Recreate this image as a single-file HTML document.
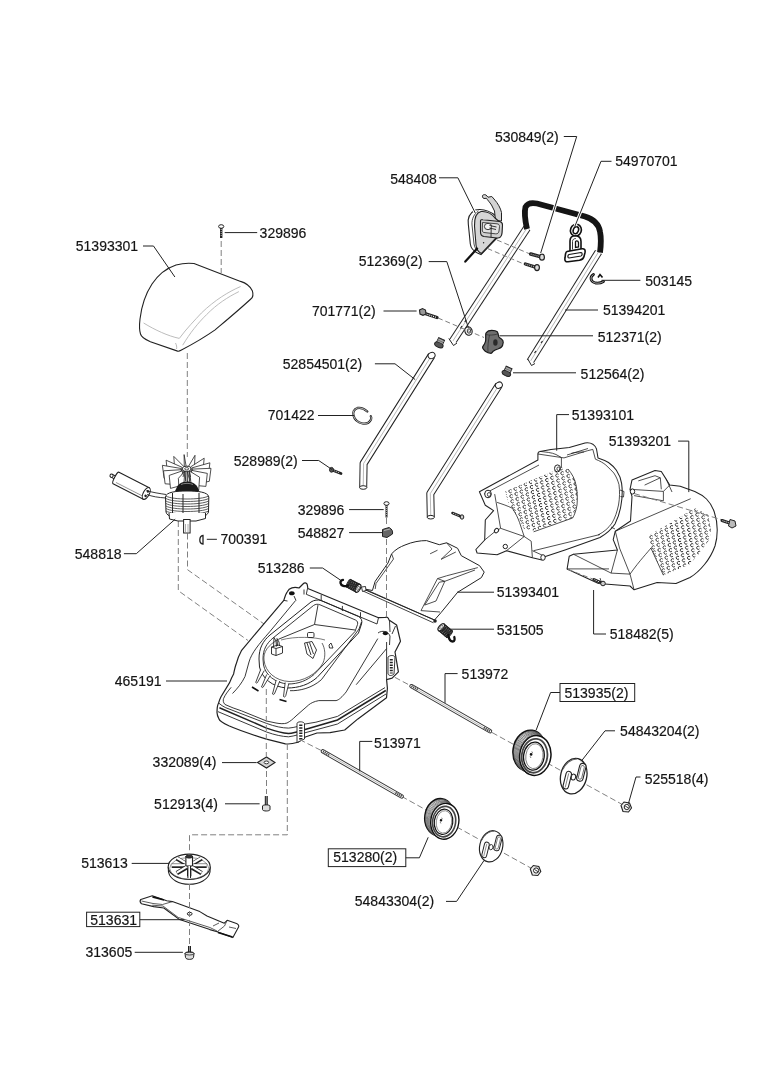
<!DOCTYPE html>
<html><head><meta charset="utf-8"><style>
html,body{margin:0;padding:0;background:#fff;width:764px;height:1080px;overflow:hidden}
svg{display:block;will-change:transform}
text{font-family:"Liberation Sans",sans-serif;font-size:14px;fill:#151515;stroke:#151515;stroke-width:0.18px}
</style></head><body>
<svg width="764" height="1080" viewBox="0 0 764 1080">
<path d="M527.0,228.0 L452.5,341.5" fill="none" stroke="#222" stroke-width="8" stroke-linecap="butt" stroke-linejoin="round"/><path d="M527.0,228.0 L452.5,341.5" fill="none" stroke="#fff" stroke-width="6" stroke-linecap="butt" stroke-linejoin="round"/><path d="M527.0,228.0 L452.5,341.5" fill="none" stroke="#999" stroke-width="0.7" stroke-linejoin="round"/>
<path d="M448.8,338.5 L453.5,345.5 L457,343" fill="#fff" stroke="#222" stroke-width="1"/>
<path d="M462,326 L460.5,328.5 M466,320 L464.8,322" stroke="#222" stroke-width="1.2"/>
<path d="M598.5,252.0 L530.2,361.5" fill="none" stroke="#222" stroke-width="8" stroke-linecap="butt" stroke-linejoin="round"/><path d="M598.5,252.0 L530.2,361.5" fill="none" stroke="#fff" stroke-width="6" stroke-linecap="butt" stroke-linejoin="round"/><path d="M598.5,252.0 L530.2,361.5" fill="none" stroke="#999" stroke-width="0.7" stroke-linejoin="round"/>
<path d="M527.8,359 L531.5,365.5 L535,363.5" fill="#fff" stroke="#222" stroke-width="1"/>
<path d="M534.5,353 L536,351 M541,343 L542.5,341" stroke="#222" stroke-width="1.2"/>
<path d="M527,229 C525,220 524,213 525.5,207 C527.5,203 532,202.5 537,203.5 L585,216.5 C593,219 598.5,223 600,231.5 C601.5,239 601,245 600,252.5" fill="none" stroke="#151515" stroke-width="5.8"/>
<path d="M475,210 C470,213 467.5,218 468.3,224 L470.3,244 C470.8,248 473.5,251 477.5,253 L481,254.5 L497,238 L496,216 C490,211 482,208.5 475,210 Z" fill="#fff" stroke="#222" stroke-width="1.1"/>
<path d="M478.5,211 C474,214 471.5,219 472,225 L474,244 C474.5,248 477,251 480.5,253" fill="none" stroke="#222" stroke-width="0.8"/>
<path d="M482.8,195.2 C482,196.5 482.5,198 484,198.5 L486.5,198.3 C487.5,200 489.5,202 491.5,205 L494.5,211 L495.5,220.5 L501.5,221 L501.5,212.5 C500.5,208 498,203.5 494,199 L491.8,196.5 L488,197.2 L486,195 C485,194.5 483.5,194.5 482.8,195.2 Z" fill="#d4d4d4" stroke="#222" stroke-width="1"/>
<path d="M481,211.5 C487,211 492,214 495,218 L502,224 L501.5,235 L495.5,238.5 L481.5,253.5 C478,252 476.5,249 476,245 L474.5,226 C474.3,218 476.5,212.5 481,211.5 Z" fill="#d6d6d6" stroke="#222" stroke-width="1.1"/>
<path d="M480.5,221 C480.5,219.8 481.5,219.5 483,219.8 L499.5,221.5 C501.5,221.8 502.5,223 502.5,225 L502,233 C501.8,236.5 500,238.3 497,238 L484,236.5 C481.5,236 480.5,234.5 480.5,232 Z" fill="#d0d0d0" stroke="#222" stroke-width="1.1"/>
<path d="M482.5,222.5 L497,223.8 C498.8,224 499.5,225 499.5,226.5 L499,231 C498.8,233 497.5,234 495.5,233.8 L484,232.5 C482.8,232.3 482.3,231.5 482.3,230 Z" fill="#e2e2e2" stroke="#222" stroke-width="0.8"/>
<ellipse cx="488" cy="226.5" rx="3.6" ry="3.2" fill="#f4f4f4" stroke="#222" stroke-width="0.9"/>
<path d="M489.5,225.5 L496.5,227 M489.5,228 L496,229.5 M491.2,228.5 L491,237.5" stroke="#222" stroke-width="0.9"/>
<circle cx="483.6" cy="242.7" r="0.7" fill="#222"/>
<path d="M477.1,248.6 L465.3,261.6" stroke="#111" stroke-width="2.2" stroke-linecap="round"/>
<path d="M497,240 L530,254 M487.5,248.5 L525,264.5" stroke="#777" stroke-width="0.95" stroke-dasharray="5,3"/>
<path d="M530.7,254.0 L542.0,257.2" stroke="#222" stroke-width="3.4" stroke-linecap="round"/><path d="M530.7,254.0 L540.1,256.7" stroke="#aaa" stroke-width="1.3" stroke-dasharray="1,1"/><ellipse cx="542.0" cy="257.2" rx="2.4" ry="3.0" fill="#ddd" stroke="#222" stroke-width="1.2"/>
<path d="M525.4,264.0 L537.0,267.6" stroke="#222" stroke-width="3.4" stroke-linecap="round"/><path d="M525.4,264.0 L535.1,267.0" stroke="#aaa" stroke-width="1.3" stroke-dasharray="1,1"/><ellipse cx="537.0" cy="267.6" rx="2.4" ry="3.0" fill="#ddd" stroke="#222" stroke-width="1.2"/>
<ellipse cx="575.9" cy="230.2" rx="5.4" ry="6" transform="rotate(20 575.9 230.2)" fill="#fff" stroke="#111" stroke-width="1.6"/>
<ellipse cx="575.9" cy="230.2" rx="2.6" ry="3.6" transform="rotate(20 575.9 230.2)" fill="#fff" stroke="#111" stroke-width="1.5"/>
<path d="M570,251 L570,241 C570,237.5 572.5,235.8 575.5,235.8 C578.5,236 581,238 581,241.5 L581,250 Z" fill="#fff" stroke="#111" stroke-width="1.6"/>
<path d="M572.5,249.5 L572.5,241.5 C572.5,239.5 574,238.5 575.8,238.5" fill="none" stroke="#222" stroke-width="0.9"/>
<path d="M575.5,242 C575.5,240.5 578,240.5 578.5,242.5 L578.5,247 L575.5,247.5 Z" fill="#fff" stroke="#111" stroke-width="1.3"/>
<path d="M567,251.5 L582,248.8 C584.5,248.5 585.5,250 585,252.5 L584,256.5 C583.5,258.8 582,259.8 579.5,260.3 L568,261.8 C565.5,262 564.5,260.5 565,258 L565.5,254 C565.8,252.5 566,251.7 567,251.5 Z" fill="#fff" stroke="#111" stroke-width="1.6"/>
<path d="M569,254.5 L581,252.5 C582.5,252.5 582.5,255.5 581,256 L569,258 C567.5,258 567.5,255 569,254.5 Z" fill="#fff" stroke="#111" stroke-width="1.2"/>
<path d="M593.5,274.5 C589.5,277 590.5,282 595.5,283 C598.5,283.5 601,283 603.5,281.5" fill="none" stroke="#111" stroke-width="2.8" stroke-linecap="round"/>
<path d="M593.5,274.5 C589.5,277 590.5,282 595.5,283 C598.5,283.5 601,283 603.5,281.5" fill="none" stroke="#fff" stroke-width="0.6"/>
<path d="M598,277.5 L600,274.5 L602.5,277.5" fill="none" stroke="#111" stroke-width="1.6"/>
<path d="M486.3,332.6 C487.5,331 489.5,330.4 491.8,330.4 C494,330.4 496.2,330.8 497.3,331.8 C498.3,333 498.4,335.5 498.8,336.8 C499.3,337.8 500.3,338.2 501.4,338.9 C502.8,339.8 503.3,341 503.2,342.4 C503,344.5 502.6,346 501.5,347 C500.6,348 499.3,348.4 497.8,349 C496.3,349.5 494.3,350.4 493.2,351.2 C492.5,352 492,353.3 491,353.3 C489,353.3 486.8,352.5 485.3,351.3 C483.8,350 482.4,348.5 482.6,347.2 C482.8,346 483.8,345 484.4,344.1 C485.2,342.5 485.7,341.5 485.7,339.9 L485.7,334.7 C485.7,333.8 485.9,333.1 486.3,332.6 Z" fill="#6e6e6e" stroke="#1a1a1a" stroke-width="1.2"/>
<path d="M486,334.5 C489,335.5 494,335.2 498.3,333.8 M489.5,335 C488.5,340 487.5,346 488,352.5" fill="none" stroke="#333" stroke-width="0.8"/>
<ellipse cx="495.4" cy="342.5" rx="2.2" ry="3.2" fill="#2a2a2a"/>
<ellipse cx="468.5" cy="331" rx="3.6" ry="4.3" fill="#eee" stroke="#222" stroke-width="1.1" transform="rotate(-20 468.5 331)"/>
<ellipse cx="469" cy="331" rx="1.7" ry="2.2" fill="#fff" stroke="#222" stroke-width="0.9"/>
<path d="M438,318 L484,337.5" stroke="#777" stroke-width="0.95" stroke-dasharray="5,3"/>
<path d="M425,313.5 L437,317.5" stroke="#222" stroke-width="3.2" stroke-linecap="round"/>
<path d="M425.5,313.8 L436,317.3" stroke="#fff" stroke-width="1.1" stroke-dasharray="1,1"/>
<path d="M419.5,310 L422.5,308.5 L425.5,310 L426,314 L423,315.3 L420,314 Z" fill="#999" stroke="#222" stroke-width="1.1"/>
<g transform="translate(439.5,343.5) rotate(205)"><rect x="-3.2" y="-1" width="6.4" height="6" fill="#777" stroke="#222" stroke-width="1"/><ellipse cx="0" cy="-1.5" rx="4.5" ry="2.5" fill="#555" stroke="#222" stroke-width="1"/><path d="M-3.2,1.5 L3.2,1.5 M-3.2,3.5 L3.2,3.5" stroke="#ccc" stroke-width="0.6"/></g>
<g transform="translate(507,372) rotate(205)"><rect x="-3.2" y="-1" width="6.4" height="6" fill="#777" stroke="#222" stroke-width="1"/><ellipse cx="0" cy="-1.5" rx="4.5" ry="2.5" fill="#555" stroke="#222" stroke-width="1"/><path d="M-3.2,1.5 L3.2,1.5 M-3.2,3.5 L3.2,3.5" stroke="#ccc" stroke-width="0.6"/></g>
<path d="M194,263.5 L240.6,281.4 C246,283 250,286 252.3,290.7 C253.5,294.5 253,297.5 250.8,299 C240,309 228,319 215.1,329.9 C205,337 193,344 181,350.3 C179.5,351.2 178.5,351.3 177.6,351.1 L150.4,341.8 C145,339.5 141.5,337.5 140.5,334 C139.2,330 139.3,325 140,319 C141.5,306 145.5,294 152,284 C158,275 167,268 176,265 C182,263.3 188,262.8 194,263.5 Z" fill="#fff" stroke="#222" stroke-width="1.1"/>
<path d="M143.6,323 C155,330 168,336 179.3,338.4 C187,328 195,320 201.5,312.9 C215,300 228,292 240.6,286.5 M175.5,343 C176.5,345 177,347 176.5,349 M182.7,345.2 C190,333 198,323 206.6,314.6 C217,304 228,297 238.9,291.6" fill="none" stroke="#b0b0b0" stroke-width="0.85"/>
<path d="M221.2,227 L221.2,238" stroke="#222" stroke-width="2.4"/>
<path d="M221.2,229 L221.2,237" stroke="#fff" stroke-width="0.7" stroke-dasharray="1,1"/>
<ellipse cx="221.2" cy="226.5" rx="2.6" ry="1.8" fill="#fff" stroke="#222" stroke-width="1"/>
<path d="M221.2,241 L221.2,273" stroke="#808080" stroke-width="1" stroke-dasharray="6,3" fill="none"/>
<path d="M187.3,353 L187.3,457" stroke="#808080" stroke-width="1" stroke-dasharray="6,3" fill="none"/>
<path d="M178.3,521 L178.3,590.7 L248,640.5" stroke="#808080" stroke-width="1" stroke-dasharray="6,3" fill="none"/>
<path d="M187.5,533.5 L187.5,569.7 L281.7,636.5 L287.5,640.4 L287.5,667" stroke="#808080" stroke-width="1" stroke-dasharray="6,3" fill="none"/>
<path d="M186.1,466.1 L184.1,454.6 L184.3,467.6 L185.8,481.1 Z" fill="#fff" stroke="#222" stroke-width="0.8" stroke-linejoin="round"/>
<path d="M188.6,466.2 L195.0,455.3 L194.4,468.3 L189.7,481.2 Z" fill="#fff" stroke="#222" stroke-width="0.8" stroke-linejoin="round"/>
<path d="M183.8,466.5 L173.8,456.4 L174.7,469.4 L182.1,481.5 Z" fill="#fff" stroke="#222" stroke-width="0.8" stroke-linejoin="round"/>
<path d="M190.6,466.9 L204.2,458.2 L202.9,471.2 L193.0,481.9 Z" fill="#fff" stroke="#222" stroke-width="0.8" stroke-linejoin="round"/>
<path d="M182.1,467.3 L166.1,460.2 L167.5,473.2 L179.3,482.3 Z" fill="#fff" stroke="#222" stroke-width="0.8" stroke-linejoin="round"/>
<path d="M191.9,467.9 L209.9,462.8 L208.3,475.8 L195.0,482.9 Z" fill="#fff" stroke="#222" stroke-width="0.8" stroke-linejoin="round"/>
<path d="M181.2,468.5 L162.4,465.3 L164.1,478.3 L178.0,483.5 Z" fill="#fff" stroke="#222" stroke-width="0.8" stroke-linejoin="round"/>
<path d="M192.2,469.1 L211.0,468.3 L209.3,481.3 L195.4,484.1 Z" fill="#fff" stroke="#222" stroke-width="0.8" stroke-linejoin="round"/>
<path d="M181.5,469.7 L163.5,470.8 L165.1,483.8 L178.4,484.7 Z" fill="#fff" stroke="#222" stroke-width="0.8" stroke-linejoin="round"/>
<path d="M191.3,470.3 L207.3,473.4 L205.9,486.4 L194.1,485.3 Z" fill="#fff" stroke="#222" stroke-width="0.8" stroke-linejoin="round"/>
<path d="M182.8,470.7 L169.2,475.4 L170.5,488.4 L180.4,485.7 Z" fill="#fff" stroke="#222" stroke-width="0.8" stroke-linejoin="round"/>
<path d="M189.6,471.1 L199.6,477.2 L198.7,490.2 L191.3,486.1 Z" fill="#fff" stroke="#222" stroke-width="0.8" stroke-linejoin="round"/>
<path d="M184.8,471.4 L178.4,478.3 L179.0,491.3 L183.7,486.4 Z" fill="#fff" stroke="#222" stroke-width="0.8" stroke-linejoin="round"/>
<path d="M187.3,471.5 L189.3,479.0 L189.1,492.0 L187.6,486.5 Z" fill="#fff" stroke="#222" stroke-width="0.8" stroke-linejoin="round"/>
<ellipse cx="186.7" cy="468.8" rx="4.2" ry="2.6" fill="#fff" stroke="#222" stroke-width="1"/>
<ellipse cx="186.7" cy="468.8" rx="2" ry="1.2" fill="none" stroke="#222" stroke-width="0.8"/>
<path d="M184.5,471 L183,477 M189,471 L190.5,477" stroke="#222" stroke-width="0.8"/>
<path d="M177,487 C179,483 183,481.5 187,481.5 C191,481.5 195,483 197.5,487 L200,493 L174,493 Z" fill="#1a1a1a"/>
<path d="M181,484.5 C184,483 190,483 193,484.5" stroke="#999" stroke-width="0.8" fill="none"/>
<g transform="translate(0,2)">
<path d="M165.5,495 C166,490 176,489 187,489 C198,489 208,490 208.8,495 L208.5,510 C207,515 199,516 187,516 C175,516 167,515 166,510 Z" fill="#fff" stroke="#222" stroke-width="1"/>
<path d="M166,494.0 C172,498.0 202,498.0 208.5,494.0" fill="none" stroke="#333" stroke-width="0.8"/>
<path d="M166,496.5 C172,500.5 202,500.5 208.5,496.5" fill="none" stroke="#333" stroke-width="0.8"/>
<path d="M166,499.0 C172,503.0 202,503.0 208.5,499.0" fill="none" stroke="#333" stroke-width="0.8"/>
<path d="M166,501.5 C172,505.5 202,505.5 208.5,501.5" fill="none" stroke="#333" stroke-width="0.8"/>
<path d="M166,504.0 C172,508.0 202,508.0 208.5,504.0" fill="none" stroke="#333" stroke-width="0.8"/>
<path d="M166,506.5 C172,510.5 202,510.5 208.5,506.5" fill="none" stroke="#333" stroke-width="0.8"/>
<path d="M166,509.0 C172,513.0 202,513.0 208.5,509.0" fill="none" stroke="#333" stroke-width="0.8"/>
<path d="M172.5,491 L172.5,514 M199,491 L199,515 M183,492 L183,516" stroke="#222" stroke-width="1"/>
</g>
<path d="M169,513 L169.5,519 L178,521 L196,521 L205.5,518.5 L205.5,513" fill="#fff" stroke="#222" stroke-width="1"/>
<rect x="183.6" y="519.5" width="6.5" height="13.5" fill="#fff" stroke="#222" stroke-width="1"/>
<path d="M185.5,524 L185.5,532 M188,524 L188,532" stroke="#777" stroke-width="0.6"/>
<g transform="translate(116,478) rotate(27)"><rect x="-5" y="-1.6" width="5" height="3.2" fill="#fff" stroke="#222" stroke-width="1"/><circle cx="-5" cy="0" r="1.6" fill="#fff" stroke="#222" stroke-width="1"/><path d="M0,-6.5 L34,-6.5 L34,6.5 L0,6.5 C-2,6.5 -2,-6.5 0,-6.5 Z" fill="#fff" stroke="#222" stroke-width="1.1"/><path d="M2,4 L33,4" stroke="#777" stroke-width="0.7"/><ellipse cx="34" cy="0" rx="3" ry="6.5" fill="#fff" stroke="#222" stroke-width="1.1"/><circle cx="34.5" cy="-2.5" r="1.3" fill="#222"/><circle cx="34.5" cy="2.5" r="1.3" fill="#222"/></g>
<path d="M147,494.5 C152,496.5 158,497.5 166,498 M146.5,490.5 C152,492.5 160,493.5 166,494.5" fill="none" stroke="#222" stroke-width="0.9"/>
<path d="M203,535.5 C199,536 198.5,543.5 203,544 Z" fill="#fff" stroke="#222" stroke-width="1.3"/>
<path d="M287.5,591.5 C289,588 294,586.5 299,588 L303,584 C305,582 307.5,583 307.5,586 L307.8,588.5 L378.5,617.7 L385,617.5 C387,616.5 388.5,617.5 389,620 L396.6,625 L400.5,641.3 L395,652 L398.4,671.8 L392.1,678.1 L386.6,679.7 L387.4,688.3 L386.5,697.7 L357.9,718.9 L344.7,730 L330,732.6 L317,733 L305.3,737 L298,742.2 C292,744 288,744.2 285.4,743.8 L266.5,739.1 C250,734 236,729 228.8,725.8 C223,723 219.5,721 219,719 C217.5,716 217,714 217,712.4 C217,708 217.5,705 218.6,703 C219.5,700 220,698.5 221,696.7 L229.6,682.6 C231,679 232.5,676 233.6,674 C234.5,670 235,667 235.9,664.8 C238,657 239.5,654 241.4,650.7 L257.1,631.8 L283.8,600.4 C285,596 286,593.5 287.5,591.5 Z" fill="#fff" stroke="#222" stroke-width="1.2" stroke-linejoin="round"/>
<path d="M295.6,600.5 L269.7,631.8 C259,644 251.5,653 249,662 L245,676.5 C242,683 237,689 232.5,693.5" fill="none" stroke="#222" stroke-width="0.9"/>
<path d="M294,596 L296,600.5 M283.8,600.4 L287.5,601" fill="none" stroke="#222" stroke-width="0.9"/>
<path d="M377.8,638.6 L346.2,691.9 C342,697 339,700 336.1,700.6 L318.8,700.6 C314,701.5 311,703 308.7,704.9 L296,716 C293,719 290,721.5 287,723 C284,724 280,723.8 276,723 L266.5,721 L241.4,710.8 C236,709 230,707 225,704.5 C223,702.5 223,700 223.6,698.5 C225,695 228,691 231.2,687.3" fill="none" stroke="#222" stroke-width="0.9"/>
<path d="M386.5,648.7 L356.2,684.7" fill="none" stroke="#222" stroke-width="0.9"/>
<path d="M218.6,703 C221,705 223,706.5 225.7,707.7 L266.5,723.4 C275,726.5 282,728 288.5,728.1 C295,727.5 300,726 304.2,724.2 L315.9,722.2 L337.5,716.4 L385,687.6" fill="none" stroke="#222" stroke-width="0.9"/>
<path d="M219.4,707.7 L266.5,728.1 C275,731 282,733 288.5,733.6 C295,733 300,731 304.2,729.7 L337.5,720 L385.8,690.5" fill="none" stroke="#222" stroke-width="1.5"/>
<path d="M217.9,711.6 L266.5,732 C275,735 282,736.5 288.5,736.8 C295,736 300,734 304.2,733 L337.5,724 L386,694" fill="none" stroke="#222" stroke-width="0.9"/>
<path d="M297,723.5 C297,721.5 303,721 304.5,723.5 L304.5,739 L297,742.5 Z" fill="#fff" stroke="#222" stroke-width="0.9"/>
<path d="M300.8,724.5 L300.8,740" stroke="#222" stroke-width="3.2" stroke-dasharray="1.5,1.2"/>
<path d="M388,657 C390,655 394,655 395,657 L394,674 C392,676 389,676 388,674 Z" fill="#fff" stroke="#222" stroke-width="0.9"/>
<path d="M391.3,659 L391.3,673.5" stroke="#222" stroke-width="3" stroke-dasharray="1.5,1.2"/>
<path d="M386.6,642 L386.6,679.7" fill="none" stroke="#222" stroke-width="0.9"/>
<path d="M306.3,594.3 L377,624 M307.5,588.5 L306.3,594.3 M321.2,595 L321.2,600 M342.4,605.9 L342.4,611 M360.5,612.2 L360.5,617.5 M378.5,617.7 L377,624" fill="none" stroke="#222" stroke-width="0.9"/>
<path d="M304,589.5 L304,594.5" fill="none" stroke="#222" stroke-width="0.9"/>
<ellipse cx="291.8" cy="593.3" rx="2.8" ry="2" fill="#111"/>
<ellipse cx="385.4" cy="633.3" rx="2.6" ry="2" fill="#111"/>
<path d="M378,633 C382,630 388,631 390,636 L389.5,645" fill="none" stroke="#222" stroke-width="0.9"/>
<path d="M389.5,620.5 L390,632 M395.5,626 L392,634" fill="none" stroke="#222" stroke-width="0.9"/>
<path d="M259,659 C259,648 263,641 270,635 L311,602 C314,600 318,599.5 321,600.5 L358.5,616.5 C361.5,618 362.5,621 361.5,624 L358.5,633 L317,677.5 C309,684.5 299,688 287,688 C272,687 262,678 259.5,667 Z" fill="none" stroke="#222" stroke-width="1"/>
<path d="M263,659 C263,649.5 266.5,643.5 273,638 L313.5,605.5 C315.5,604 318,604 320,604.8 L355.5,620 C357.5,621 358,622.5 357.5,624.5 L355,631.5 L314,674.5 C307,680.5 298.5,684 288,684 C275,683 265.5,675 263.5,665 Z" fill="none" stroke="#222" stroke-width="0.9"/>
<path d="M318,605 L314.5,624.5 L355,630 M314.5,624.5 L279,639" fill="none" stroke="#222" stroke-width="0.9"/>
<path d="M279,639 C268,645 263,652 264,660 C265,672 276,681 289,681.5 C303,682 317,674 323,663 C326,656 325,648 322,643" fill="none" stroke="#222" stroke-width="0.7"/>
<path d="M361.5,622 L359,629 L321.4,679.7 C312,688 300,691 290,690.7" fill="none" stroke="#222" stroke-width="0.9"/>
<path d="M260.7,669.5 L255.7,682.5 C256.2,683.5 257.7,683.0 258.0,681.5 L264.3,670.5" fill="#fff" stroke="#222" stroke-width="0.85"/>
<path d="M266.7,674.5 L261.5,687 C262,688 263.5,687.5 263.8,686 L270.3,675.5" fill="#fff" stroke="#222" stroke-width="0.85"/>
<path d="M276.2,680 L272.5,694 C273,695 274.5,694.5 274.8,693 L279.8,681" fill="#fff" stroke="#222" stroke-width="0.85"/>
<path d="M285.2,682.5 L283.5,696.5 C284,697.5 285.5,697.0 285.8,695.5 L288.8,683.5" fill="#fff" stroke="#222" stroke-width="0.85"/>
<path d="M252,687 L258.5,691 M279.5,699.5 L286.5,701.5" stroke="#111" stroke-width="1.6"/>
<path d="M271.5,647 L278,645 L282.5,646.5 L282.5,653 L276,655.5 L271.5,654 Z" fill="#fff" stroke="#222" stroke-width="0.9"/>
<path d="M271.5,647 L276,648.5 L282.5,646.5 M276,648.5 L276,655.5" fill="none" stroke="#222" stroke-width="0.9"/>
<path d="M273.5,647 L274,637.5 L276,641 L276.5,646.5 M277.5,646 L277,638.5 L279,642 L279.5,646" fill="none" stroke="#222" stroke-width="0.9"/>
<rect x="307.5" y="632.5" width="6.5" height="5" rx="1.2" fill="#fff" stroke="#222" stroke-width="0.9"/>
<path d="M304.5,643 L312,641.5 L316.5,650 L313,658.5 L307,654 Z" fill="#fff" stroke="#222" stroke-width="0.9"/>
<path d="M307,643 L311,655 M309.5,642.5 L313.5,654" fill="none" stroke="#222" stroke-width="0.9"/>
<path d="M329,645 L331,643 L333,648 L329.5,648 Z" fill="#fff" stroke="#222" stroke-width="0.9"/>
<path d="M281,640 C295,636 315,637 325,640" fill="none" stroke="#222" stroke-width="0.6"/>
<path d="M479.4,491.8 L537.9,460 L537.9,454 C538,452 539,451.5 540,451.4 L551,449.4 L569.3,447.4 L585,442.9 C588,442.5 591,443 592.8,444.2 C594.5,445.5 596,447 596.5,449 L598,457.9 C603,459.5 606,461 608.5,462.5 C612,465 614.5,467.5 616.4,470.3 C619.5,475 621,479 621.6,483.4 C622.5,490 622.5,497 621,505 C620,512 618,518 615,524 C611,530 606,534 600,537.5 L565,550 L545.4,556.6 L542,560 L532.4,557.7 L506.5,550.7 L497.1,554.8 L477.1,553 L475.9,549.5 L484.7,540 L485.3,520 L493.6,510.6 L485.3,505.3 Z" fill="#fff" stroke="#222" stroke-width="1.05" stroke-linejoin="round"/>
<path d="M595.4,459.2 C600,461 603.5,463 605.9,465.1 C609,468 611.5,470.5 613.8,473 C616.5,477 618,481 619,484.7 C619.8,491 619.8,498 618.5,505 C617,512 615,518 612,523 C608.5,528 604,532 598,535" fill="none" stroke="#222" stroke-width="0.8"/>
<path d="M537.9,454 L561.4,457.5 L564,457.9 M561.4,457.5 L561.4,468 M539.8,451.4 C545,452 552,452.5 556,454.5 L561.4,457.5 M564,457.9 L587.6,450.7 L592.8,449.4 L595.4,459.2 M567,455 L588,448.5 M571,453.5 C575,452 580,452 584,452" fill="none" stroke="#222" stroke-width="0.8"/>
<path d="M620,490 L624,491.5 L623.5,497 L620.5,496.5 M611,527 L615,529" fill="none" stroke="#222" stroke-width="0.8"/>
<path d="M484,494 L539,465 M494.7,494.1 L500.6,528.3 M497.1,502.4 C502,504 508,506 512.4,508.3 C515.5,513 518,518 519.5,522.4 L524.2,536.5 L531.2,541.2 L532.4,557.7 M500.6,528.3 L524.2,536.5 M484.7,540 L494.7,531.8 L500.6,528.3 M506.5,550.7 L524.2,536.5 M532.4,550.7 L545.4,556.6 M533.6,531.8 L572.6,518 M533.6,550.7 L600,534.5" fill="none" stroke="#222" stroke-width="0.8"/>
<clipPath id="c1"><path d="M505.0,491.5 L562.0,467.5 L568.0,469.0 L575.0,480.0 L577.5,492.0 L577.0,505.0 L572.6,518.0 L533.0,530.5 L524.0,529.0 L519.5,519.0 L509.0,505.0 Z"/></clipPath><g clip-path="url(#c1)" fill="none" stroke="#333" stroke-width="1.0"><path d="M457.7,469.9 A1.6,1.6 0 1 0 457.7,472.1"/><path d="M458.7,475.0 A1.6,1.6 0 1 0 458.7,477.2"/><path d="M459.7,480.1 A1.6,1.6 0 1 0 459.7,482.3"/><path d="M460.7,485.2 A1.6,1.6 0 1 0 460.7,487.4"/><path d="M461.7,490.3 A1.6,1.6 0 1 0 461.7,492.5"/><path d="M462.7,495.4 A1.6,1.6 0 1 0 462.7,497.6"/><path d="M463.7,500.5 A1.6,1.6 0 1 0 463.7,502.7"/><path d="M464.7,505.6 A1.6,1.6 0 1 0 464.7,507.8"/><path d="M465.7,510.7 A1.6,1.6 0 1 0 465.7,512.9"/><path d="M466.7,515.8 A1.6,1.6 0 1 0 466.7,518.0"/><path d="M467.7,520.9 A1.6,1.6 0 1 0 467.7,523.1"/><path d="M468.7,526.0 A1.6,1.6 0 1 0 468.7,528.2"/><path d="M469.7,531.1 A1.6,1.6 0 1 0 469.7,533.3"/><path d="M470.7,536.2 A1.6,1.6 0 1 0 470.7,538.4"/><path d="M471.7,541.3 A1.6,1.6 0 1 0 471.7,543.5"/><path d="M472.7,546.4 A1.6,1.6 0 1 0 472.7,548.6"/><path d="M473.7,551.5 A1.6,1.6 0 1 0 473.7,553.7"/><path d="M474.7,556.6 A1.6,1.6 0 1 0 474.7,558.8"/><path d="M475.7,561.7 A1.6,1.6 0 1 0 475.7,563.9"/><path d="M476.7,566.8 A1.6,1.6 0 1 0 476.7,569.0"/><path d="M477.7,571.9 A1.6,1.6 0 1 0 477.7,574.1"/><path d="M478.7,577.0 A1.6,1.6 0 1 0 478.7,579.2"/><path d="M479.7,582.1 A1.6,1.6 0 1 0 479.7,584.3"/><path d="M480.7,587.2 A1.6,1.6 0 1 0 480.7,589.4"/><path d="M462.8,467.6 A1.6,1.6 0 1 0 462.8,469.8"/><path d="M463.8,472.7 A1.6,1.6 0 1 0 463.8,474.9"/><path d="M464.8,477.8 A1.6,1.6 0 1 0 464.8,480.0"/><path d="M465.8,482.9 A1.6,1.6 0 1 0 465.8,485.1"/><path d="M466.8,488.0 A1.6,1.6 0 1 0 466.8,490.2"/><path d="M467.8,493.1 A1.6,1.6 0 1 0 467.8,495.3"/><path d="M468.8,498.2 A1.6,1.6 0 1 0 468.8,500.4"/><path d="M469.8,503.3 A1.6,1.6 0 1 0 469.8,505.5"/><path d="M470.8,508.4 A1.6,1.6 0 1 0 470.8,510.6"/><path d="M471.8,513.5 A1.6,1.6 0 1 0 471.8,515.7"/><path d="M472.8,518.6 A1.6,1.6 0 1 0 472.8,520.8"/><path d="M473.8,523.7 A1.6,1.6 0 1 0 473.8,525.9"/><path d="M474.8,528.8 A1.6,1.6 0 1 0 474.8,531.0"/><path d="M475.8,533.9 A1.6,1.6 0 1 0 475.8,536.1"/><path d="M476.8,539.0 A1.6,1.6 0 1 0 476.8,541.2"/><path d="M477.8,544.1 A1.6,1.6 0 1 0 477.8,546.3"/><path d="M478.8,549.2 A1.6,1.6 0 1 0 478.8,551.4"/><path d="M479.8,554.3 A1.6,1.6 0 1 0 479.8,556.5"/><path d="M480.8,559.4 A1.6,1.6 0 1 0 480.8,561.6"/><path d="M481.8,564.5 A1.6,1.6 0 1 0 481.8,566.7"/><path d="M482.8,569.6 A1.6,1.6 0 1 0 482.8,571.8"/><path d="M483.8,574.7 A1.6,1.6 0 1 0 483.8,576.9"/><path d="M484.8,579.8 A1.6,1.6 0 1 0 484.8,582.0"/><path d="M485.8,584.9 A1.6,1.6 0 1 0 485.8,587.1"/><path d="M467.9,465.3 A1.6,1.6 0 1 0 467.9,467.5"/><path d="M468.9,470.4 A1.6,1.6 0 1 0 468.9,472.6"/><path d="M469.9,475.5 A1.6,1.6 0 1 0 469.9,477.7"/><path d="M470.9,480.6 A1.6,1.6 0 1 0 470.9,482.8"/><path d="M471.9,485.7 A1.6,1.6 0 1 0 471.9,487.9"/><path d="M472.9,490.8 A1.6,1.6 0 1 0 472.9,493.0"/><path d="M473.9,495.9 A1.6,1.6 0 1 0 473.9,498.1"/><path d="M474.9,501.0 A1.6,1.6 0 1 0 474.9,503.2"/><path d="M475.9,506.1 A1.6,1.6 0 1 0 475.9,508.3"/><path d="M476.9,511.2 A1.6,1.6 0 1 0 476.9,513.4"/><path d="M477.9,516.3 A1.6,1.6 0 1 0 477.9,518.5"/><path d="M478.9,521.4 A1.6,1.6 0 1 0 478.9,523.6"/><path d="M479.9,526.5 A1.6,1.6 0 1 0 479.9,528.7"/><path d="M480.9,531.6 A1.6,1.6 0 1 0 480.9,533.8"/><path d="M481.9,536.7 A1.6,1.6 0 1 0 481.9,538.9"/><path d="M482.9,541.8 A1.6,1.6 0 1 0 482.9,544.0"/><path d="M483.9,546.9 A1.6,1.6 0 1 0 483.9,549.1"/><path d="M484.9,552.0 A1.6,1.6 0 1 0 484.9,554.2"/><path d="M485.9,557.1 A1.6,1.6 0 1 0 485.9,559.3"/><path d="M486.9,562.2 A1.6,1.6 0 1 0 486.9,564.4"/><path d="M487.9,567.3 A1.6,1.6 0 1 0 487.9,569.5"/><path d="M488.9,572.4 A1.6,1.6 0 1 0 488.9,574.6"/><path d="M489.9,577.5 A1.6,1.6 0 1 0 489.9,579.7"/><path d="M490.9,582.6 A1.6,1.6 0 1 0 490.9,584.8"/><path d="M473.0,463.0 A1.6,1.6 0 1 0 473.0,465.2"/><path d="M474.0,468.1 A1.6,1.6 0 1 0 474.0,470.3"/><path d="M475.0,473.2 A1.6,1.6 0 1 0 475.0,475.4"/><path d="M476.0,478.3 A1.6,1.6 0 1 0 476.0,480.5"/><path d="M477.0,483.4 A1.6,1.6 0 1 0 477.0,485.6"/><path d="M478.0,488.5 A1.6,1.6 0 1 0 478.0,490.7"/><path d="M479.0,493.6 A1.6,1.6 0 1 0 479.0,495.8"/><path d="M480.0,498.7 A1.6,1.6 0 1 0 480.0,500.9"/><path d="M481.0,503.8 A1.6,1.6 0 1 0 481.0,506.0"/><path d="M482.0,508.9 A1.6,1.6 0 1 0 482.0,511.1"/><path d="M483.0,514.0 A1.6,1.6 0 1 0 483.0,516.2"/><path d="M484.0,519.1 A1.6,1.6 0 1 0 484.0,521.3"/><path d="M485.0,524.2 A1.6,1.6 0 1 0 485.0,526.4"/><path d="M486.0,529.3 A1.6,1.6 0 1 0 486.0,531.5"/><path d="M487.0,534.4 A1.6,1.6 0 1 0 487.0,536.6"/><path d="M488.0,539.5 A1.6,1.6 0 1 0 488.0,541.7"/><path d="M489.0,544.6 A1.6,1.6 0 1 0 489.0,546.8"/><path d="M490.0,549.7 A1.6,1.6 0 1 0 490.0,551.9"/><path d="M491.0,554.8 A1.6,1.6 0 1 0 491.0,557.0"/><path d="M492.0,559.9 A1.6,1.6 0 1 0 492.0,562.1"/><path d="M493.0,565.0 A1.6,1.6 0 1 0 493.0,567.2"/><path d="M494.0,570.1 A1.6,1.6 0 1 0 494.0,572.3"/><path d="M495.0,575.2 A1.6,1.6 0 1 0 495.0,577.4"/><path d="M496.0,580.3 A1.6,1.6 0 1 0 496.0,582.5"/><path d="M478.1,460.7 A1.6,1.6 0 1 0 478.1,462.9"/><path d="M479.1,465.8 A1.6,1.6 0 1 0 479.1,468.0"/><path d="M480.1,470.9 A1.6,1.6 0 1 0 480.1,473.1"/><path d="M481.1,476.0 A1.6,1.6 0 1 0 481.1,478.2"/><path d="M482.1,481.1 A1.6,1.6 0 1 0 482.1,483.3"/><path d="M483.1,486.2 A1.6,1.6 0 1 0 483.1,488.4"/><path d="M484.1,491.3 A1.6,1.6 0 1 0 484.1,493.5"/><path d="M485.1,496.4 A1.6,1.6 0 1 0 485.1,498.6"/><path d="M486.1,501.5 A1.6,1.6 0 1 0 486.1,503.7"/><path d="M487.1,506.6 A1.6,1.6 0 1 0 487.1,508.8"/><path d="M488.1,511.7 A1.6,1.6 0 1 0 488.1,513.9"/><path d="M489.1,516.8 A1.6,1.6 0 1 0 489.1,519.0"/><path d="M490.1,521.9 A1.6,1.6 0 1 0 490.1,524.1"/><path d="M491.1,527.0 A1.6,1.6 0 1 0 491.1,529.2"/><path d="M492.1,532.1 A1.6,1.6 0 1 0 492.1,534.3"/><path d="M493.1,537.2 A1.6,1.6 0 1 0 493.1,539.4"/><path d="M494.1,542.3 A1.6,1.6 0 1 0 494.1,544.5"/><path d="M495.1,547.4 A1.6,1.6 0 1 0 495.1,549.6"/><path d="M496.1,552.5 A1.6,1.6 0 1 0 496.1,554.7"/><path d="M497.1,557.6 A1.6,1.6 0 1 0 497.1,559.8"/><path d="M498.1,562.7 A1.6,1.6 0 1 0 498.1,564.9"/><path d="M499.1,567.8 A1.6,1.6 0 1 0 499.1,570.0"/><path d="M500.1,572.9 A1.6,1.6 0 1 0 500.1,575.1"/><path d="M501.1,578.0 A1.6,1.6 0 1 0 501.1,580.2"/><path d="M483.2,458.4 A1.6,1.6 0 1 0 483.2,460.6"/><path d="M484.2,463.5 A1.6,1.6 0 1 0 484.2,465.7"/><path d="M485.2,468.6 A1.6,1.6 0 1 0 485.2,470.8"/><path d="M486.2,473.7 A1.6,1.6 0 1 0 486.2,475.9"/><path d="M487.2,478.8 A1.6,1.6 0 1 0 487.2,481.0"/><path d="M488.2,483.9 A1.6,1.6 0 1 0 488.2,486.1"/><path d="M489.2,489.0 A1.6,1.6 0 1 0 489.2,491.2"/><path d="M490.2,494.1 A1.6,1.6 0 1 0 490.2,496.3"/><path d="M491.2,499.2 A1.6,1.6 0 1 0 491.2,501.4"/><path d="M492.2,504.3 A1.6,1.6 0 1 0 492.2,506.5"/><path d="M493.2,509.4 A1.6,1.6 0 1 0 493.2,511.6"/><path d="M494.2,514.5 A1.6,1.6 0 1 0 494.2,516.7"/><path d="M495.2,519.6 A1.6,1.6 0 1 0 495.2,521.8"/><path d="M496.2,524.7 A1.6,1.6 0 1 0 496.2,526.9"/><path d="M497.2,529.8 A1.6,1.6 0 1 0 497.2,532.0"/><path d="M498.2,534.9 A1.6,1.6 0 1 0 498.2,537.1"/><path d="M499.2,540.0 A1.6,1.6 0 1 0 499.2,542.2"/><path d="M500.2,545.1 A1.6,1.6 0 1 0 500.2,547.3"/><path d="M501.2,550.2 A1.6,1.6 0 1 0 501.2,552.4"/><path d="M502.2,555.3 A1.6,1.6 0 1 0 502.2,557.5"/><path d="M503.2,560.4 A1.6,1.6 0 1 0 503.2,562.6"/><path d="M504.2,565.5 A1.6,1.6 0 1 0 504.2,567.7"/><path d="M505.2,570.6 A1.6,1.6 0 1 0 505.2,572.8"/><path d="M506.2,575.7 A1.6,1.6 0 1 0 506.2,577.9"/><path d="M488.3,456.1 A1.6,1.6 0 1 0 488.3,458.3"/><path d="M489.3,461.2 A1.6,1.6 0 1 0 489.3,463.4"/><path d="M490.3,466.3 A1.6,1.6 0 1 0 490.3,468.5"/><path d="M491.3,471.4 A1.6,1.6 0 1 0 491.3,473.6"/><path d="M492.3,476.5 A1.6,1.6 0 1 0 492.3,478.7"/><path d="M493.3,481.6 A1.6,1.6 0 1 0 493.3,483.8"/><path d="M494.3,486.7 A1.6,1.6 0 1 0 494.3,488.9"/><path d="M495.3,491.8 A1.6,1.6 0 1 0 495.3,494.0"/><path d="M496.3,496.9 A1.6,1.6 0 1 0 496.3,499.1"/><path d="M497.3,502.0 A1.6,1.6 0 1 0 497.3,504.2"/><path d="M498.3,507.1 A1.6,1.6 0 1 0 498.3,509.3"/><path d="M499.3,512.2 A1.6,1.6 0 1 0 499.3,514.4"/><path d="M500.3,517.3 A1.6,1.6 0 1 0 500.3,519.5"/><path d="M501.3,522.4 A1.6,1.6 0 1 0 501.3,524.6"/><path d="M502.3,527.5 A1.6,1.6 0 1 0 502.3,529.7"/><path d="M503.3,532.6 A1.6,1.6 0 1 0 503.3,534.8"/><path d="M504.3,537.7 A1.6,1.6 0 1 0 504.3,539.9"/><path d="M505.3,542.8 A1.6,1.6 0 1 0 505.3,545.0"/><path d="M506.3,547.9 A1.6,1.6 0 1 0 506.3,550.1"/><path d="M507.3,553.0 A1.6,1.6 0 1 0 507.3,555.2"/><path d="M508.3,558.1 A1.6,1.6 0 1 0 508.3,560.3"/><path d="M509.3,563.2 A1.6,1.6 0 1 0 509.3,565.4"/><path d="M510.3,568.3 A1.6,1.6 0 1 0 510.3,570.5"/><path d="M511.3,573.4 A1.6,1.6 0 1 0 511.3,575.6"/><path d="M493.4,453.8 A1.6,1.6 0 1 0 493.4,456.0"/><path d="M494.4,458.9 A1.6,1.6 0 1 0 494.4,461.1"/><path d="M495.4,464.0 A1.6,1.6 0 1 0 495.4,466.2"/><path d="M496.4,469.1 A1.6,1.6 0 1 0 496.4,471.3"/><path d="M497.4,474.2 A1.6,1.6 0 1 0 497.4,476.4"/><path d="M498.4,479.3 A1.6,1.6 0 1 0 498.4,481.5"/><path d="M499.4,484.4 A1.6,1.6 0 1 0 499.4,486.6"/><path d="M500.4,489.5 A1.6,1.6 0 1 0 500.4,491.7"/><path d="M501.4,494.6 A1.6,1.6 0 1 0 501.4,496.8"/><path d="M502.4,499.7 A1.6,1.6 0 1 0 502.4,501.9"/><path d="M503.4,504.8 A1.6,1.6 0 1 0 503.4,507.0"/><path d="M504.4,509.9 A1.6,1.6 0 1 0 504.4,512.1"/><path d="M505.4,515.0 A1.6,1.6 0 1 0 505.4,517.2"/><path d="M506.4,520.1 A1.6,1.6 0 1 0 506.4,522.3"/><path d="M507.4,525.2 A1.6,1.6 0 1 0 507.4,527.4"/><path d="M508.4,530.3 A1.6,1.6 0 1 0 508.4,532.5"/><path d="M509.4,535.4 A1.6,1.6 0 1 0 509.4,537.6"/><path d="M510.4,540.5 A1.6,1.6 0 1 0 510.4,542.7"/><path d="M511.4,545.6 A1.6,1.6 0 1 0 511.4,547.8"/><path d="M512.4,550.7 A1.6,1.6 0 1 0 512.4,552.9"/><path d="M513.4,555.8 A1.6,1.6 0 1 0 513.4,558.0"/><path d="M514.4,560.9 A1.6,1.6 0 1 0 514.4,563.1"/><path d="M515.4,566.0 A1.6,1.6 0 1 0 515.4,568.2"/><path d="M516.4,571.1 A1.6,1.6 0 1 0 516.4,573.3"/><path d="M498.5,451.5 A1.6,1.6 0 1 0 498.5,453.7"/><path d="M499.5,456.6 A1.6,1.6 0 1 0 499.5,458.8"/><path d="M500.5,461.7 A1.6,1.6 0 1 0 500.5,463.9"/><path d="M501.5,466.8 A1.6,1.6 0 1 0 501.5,469.0"/><path d="M502.5,471.9 A1.6,1.6 0 1 0 502.5,474.1"/><path d="M503.5,477.0 A1.6,1.6 0 1 0 503.5,479.2"/><path d="M504.5,482.1 A1.6,1.6 0 1 0 504.5,484.3"/><path d="M505.5,487.2 A1.6,1.6 0 1 0 505.5,489.4"/><path d="M506.5,492.3 A1.6,1.6 0 1 0 506.5,494.5"/><path d="M507.5,497.4 A1.6,1.6 0 1 0 507.5,499.6"/><path d="M508.5,502.5 A1.6,1.6 0 1 0 508.5,504.7"/><path d="M509.5,507.6 A1.6,1.6 0 1 0 509.5,509.8"/><path d="M510.5,512.7 A1.6,1.6 0 1 0 510.5,514.9"/><path d="M511.5,517.8 A1.6,1.6 0 1 0 511.5,520.0"/><path d="M512.5,522.9 A1.6,1.6 0 1 0 512.5,525.1"/><path d="M513.5,528.0 A1.6,1.6 0 1 0 513.5,530.2"/><path d="M514.5,533.1 A1.6,1.6 0 1 0 514.5,535.3"/><path d="M515.5,538.2 A1.6,1.6 0 1 0 515.5,540.4"/><path d="M516.5,543.3 A1.6,1.6 0 1 0 516.5,545.5"/><path d="M517.5,548.4 A1.6,1.6 0 1 0 517.5,550.6"/><path d="M518.5,553.5 A1.6,1.6 0 1 0 518.5,555.7"/><path d="M519.5,558.6 A1.6,1.6 0 1 0 519.5,560.8"/><path d="M520.5,563.7 A1.6,1.6 0 1 0 520.5,565.9"/><path d="M521.5,568.8 A1.6,1.6 0 1 0 521.5,571.0"/><path d="M503.6,449.2 A1.6,1.6 0 1 0 503.6,451.4"/><path d="M504.6,454.3 A1.6,1.6 0 1 0 504.6,456.5"/><path d="M505.6,459.4 A1.6,1.6 0 1 0 505.6,461.6"/><path d="M506.6,464.5 A1.6,1.6 0 1 0 506.6,466.7"/><path d="M507.6,469.6 A1.6,1.6 0 1 0 507.6,471.8"/><path d="M508.6,474.7 A1.6,1.6 0 1 0 508.6,476.9"/><path d="M509.6,479.8 A1.6,1.6 0 1 0 509.6,482.0"/><path d="M510.6,484.9 A1.6,1.6 0 1 0 510.6,487.1"/><path d="M511.6,490.0 A1.6,1.6 0 1 0 511.6,492.2"/><path d="M512.6,495.1 A1.6,1.6 0 1 0 512.6,497.3"/><path d="M513.6,500.2 A1.6,1.6 0 1 0 513.6,502.4"/><path d="M514.6,505.3 A1.6,1.6 0 1 0 514.6,507.5"/><path d="M515.6,510.4 A1.6,1.6 0 1 0 515.6,512.6"/><path d="M516.6,515.5 A1.6,1.6 0 1 0 516.6,517.7"/><path d="M517.6,520.6 A1.6,1.6 0 1 0 517.6,522.8"/><path d="M518.6,525.7 A1.6,1.6 0 1 0 518.6,527.9"/><path d="M519.6,530.8 A1.6,1.6 0 1 0 519.6,533.0"/><path d="M520.6,535.9 A1.6,1.6 0 1 0 520.6,538.1"/><path d="M521.6,541.0 A1.6,1.6 0 1 0 521.6,543.2"/><path d="M522.6,546.1 A1.6,1.6 0 1 0 522.6,548.3"/><path d="M523.6,551.2 A1.6,1.6 0 1 0 523.6,553.4"/><path d="M524.6,556.3 A1.6,1.6 0 1 0 524.6,558.5"/><path d="M525.6,561.4 A1.6,1.6 0 1 0 525.6,563.6"/><path d="M526.6,566.5 A1.6,1.6 0 1 0 526.6,568.7"/><path d="M508.7,446.9 A1.6,1.6 0 1 0 508.7,449.1"/><path d="M509.7,452.0 A1.6,1.6 0 1 0 509.7,454.2"/><path d="M510.7,457.1 A1.6,1.6 0 1 0 510.7,459.3"/><path d="M511.7,462.2 A1.6,1.6 0 1 0 511.7,464.4"/><path d="M512.7,467.3 A1.6,1.6 0 1 0 512.7,469.5"/><path d="M513.7,472.4 A1.6,1.6 0 1 0 513.7,474.6"/><path d="M514.7,477.5 A1.6,1.6 0 1 0 514.7,479.7"/><path d="M515.7,482.6 A1.6,1.6 0 1 0 515.7,484.8"/><path d="M516.7,487.7 A1.6,1.6 0 1 0 516.7,489.9"/><path d="M517.7,492.8 A1.6,1.6 0 1 0 517.7,495.0"/><path d="M518.7,497.9 A1.6,1.6 0 1 0 518.7,500.1"/><path d="M519.7,503.0 A1.6,1.6 0 1 0 519.7,505.2"/><path d="M520.7,508.1 A1.6,1.6 0 1 0 520.7,510.3"/><path d="M521.7,513.2 A1.6,1.6 0 1 0 521.7,515.4"/><path d="M522.7,518.3 A1.6,1.6 0 1 0 522.7,520.5"/><path d="M523.7,523.4 A1.6,1.6 0 1 0 523.7,525.6"/><path d="M524.7,528.5 A1.6,1.6 0 1 0 524.7,530.7"/><path d="M525.7,533.6 A1.6,1.6 0 1 0 525.7,535.8"/><path d="M526.7,538.7 A1.6,1.6 0 1 0 526.7,540.9"/><path d="M527.7,543.8 A1.6,1.6 0 1 0 527.7,546.0"/><path d="M528.7,548.9 A1.6,1.6 0 1 0 528.7,551.1"/><path d="M529.7,554.0 A1.6,1.6 0 1 0 529.7,556.2"/><path d="M530.7,559.1 A1.6,1.6 0 1 0 530.7,561.3"/><path d="M531.7,564.2 A1.6,1.6 0 1 0 531.7,566.4"/><path d="M513.8,444.6 A1.6,1.6 0 1 0 513.8,446.8"/><path d="M514.8,449.7 A1.6,1.6 0 1 0 514.8,451.9"/><path d="M515.8,454.8 A1.6,1.6 0 1 0 515.8,457.0"/><path d="M516.8,459.9 A1.6,1.6 0 1 0 516.8,462.1"/><path d="M517.8,465.0 A1.6,1.6 0 1 0 517.8,467.2"/><path d="M518.8,470.1 A1.6,1.6 0 1 0 518.8,472.3"/><path d="M519.8,475.2 A1.6,1.6 0 1 0 519.8,477.4"/><path d="M520.8,480.3 A1.6,1.6 0 1 0 520.8,482.5"/><path d="M521.8,485.4 A1.6,1.6 0 1 0 521.8,487.6"/><path d="M522.8,490.5 A1.6,1.6 0 1 0 522.8,492.7"/><path d="M523.8,495.6 A1.6,1.6 0 1 0 523.8,497.8"/><path d="M524.8,500.7 A1.6,1.6 0 1 0 524.8,502.9"/><path d="M525.8,505.8 A1.6,1.6 0 1 0 525.8,508.0"/><path d="M526.8,510.9 A1.6,1.6 0 1 0 526.8,513.1"/><path d="M527.8,516.0 A1.6,1.6 0 1 0 527.8,518.2"/><path d="M528.8,521.1 A1.6,1.6 0 1 0 528.8,523.3"/><path d="M529.8,526.2 A1.6,1.6 0 1 0 529.8,528.4"/><path d="M530.8,531.3 A1.6,1.6 0 1 0 530.8,533.5"/><path d="M531.8,536.4 A1.6,1.6 0 1 0 531.8,538.6"/><path d="M532.8,541.5 A1.6,1.6 0 1 0 532.8,543.7"/><path d="M533.8,546.6 A1.6,1.6 0 1 0 533.8,548.8"/><path d="M534.8,551.7 A1.6,1.6 0 1 0 534.8,553.9"/><path d="M535.8,556.8 A1.6,1.6 0 1 0 535.8,559.0"/><path d="M536.8,561.9 A1.6,1.6 0 1 0 536.8,564.1"/><path d="M518.9,442.3 A1.6,1.6 0 1 0 518.9,444.5"/><path d="M519.9,447.4 A1.6,1.6 0 1 0 519.9,449.6"/><path d="M520.9,452.5 A1.6,1.6 0 1 0 520.9,454.7"/><path d="M521.9,457.6 A1.6,1.6 0 1 0 521.9,459.8"/><path d="M522.9,462.7 A1.6,1.6 0 1 0 522.9,464.9"/><path d="M523.9,467.8 A1.6,1.6 0 1 0 523.9,470.0"/><path d="M524.9,472.9 A1.6,1.6 0 1 0 524.9,475.1"/><path d="M525.9,478.0 A1.6,1.6 0 1 0 525.9,480.2"/><path d="M526.9,483.1 A1.6,1.6 0 1 0 526.9,485.3"/><path d="M527.9,488.2 A1.6,1.6 0 1 0 527.9,490.4"/><path d="M528.9,493.3 A1.6,1.6 0 1 0 528.9,495.5"/><path d="M529.9,498.4 A1.6,1.6 0 1 0 529.9,500.6"/><path d="M530.9,503.5 A1.6,1.6 0 1 0 530.9,505.7"/><path d="M531.9,508.6 A1.6,1.6 0 1 0 531.9,510.8"/><path d="M532.9,513.7 A1.6,1.6 0 1 0 532.9,515.9"/><path d="M533.9,518.8 A1.6,1.6 0 1 0 533.9,521.0"/><path d="M534.9,523.9 A1.6,1.6 0 1 0 534.9,526.1"/><path d="M535.9,529.0 A1.6,1.6 0 1 0 535.9,531.2"/><path d="M536.9,534.1 A1.6,1.6 0 1 0 536.9,536.3"/><path d="M537.9,539.2 A1.6,1.6 0 1 0 537.9,541.4"/><path d="M538.9,544.3 A1.6,1.6 0 1 0 538.9,546.5"/><path d="M539.9,549.4 A1.6,1.6 0 1 0 539.9,551.6"/><path d="M540.9,554.5 A1.6,1.6 0 1 0 540.9,556.7"/><path d="M541.9,559.6 A1.6,1.6 0 1 0 541.9,561.8"/><path d="M524.0,440.0 A1.6,1.6 0 1 0 524.0,442.2"/><path d="M525.0,445.1 A1.6,1.6 0 1 0 525.0,447.3"/><path d="M526.0,450.2 A1.6,1.6 0 1 0 526.0,452.4"/><path d="M527.0,455.3 A1.6,1.6 0 1 0 527.0,457.5"/><path d="M528.0,460.4 A1.6,1.6 0 1 0 528.0,462.6"/><path d="M529.0,465.5 A1.6,1.6 0 1 0 529.0,467.7"/><path d="M530.0,470.6 A1.6,1.6 0 1 0 530.0,472.8"/><path d="M531.0,475.7 A1.6,1.6 0 1 0 531.0,477.9"/><path d="M532.0,480.8 A1.6,1.6 0 1 0 532.0,483.0"/><path d="M533.0,485.9 A1.6,1.6 0 1 0 533.0,488.1"/><path d="M534.0,491.0 A1.6,1.6 0 1 0 534.0,493.2"/><path d="M535.0,496.1 A1.6,1.6 0 1 0 535.0,498.3"/><path d="M536.0,501.2 A1.6,1.6 0 1 0 536.0,503.4"/><path d="M537.0,506.3 A1.6,1.6 0 1 0 537.0,508.5"/><path d="M538.0,511.4 A1.6,1.6 0 1 0 538.0,513.6"/><path d="M539.0,516.5 A1.6,1.6 0 1 0 539.0,518.7"/><path d="M540.0,521.6 A1.6,1.6 0 1 0 540.0,523.8"/><path d="M541.0,526.7 A1.6,1.6 0 1 0 541.0,528.9"/><path d="M542.0,531.8 A1.6,1.6 0 1 0 542.0,534.0"/><path d="M543.0,536.9 A1.6,1.6 0 1 0 543.0,539.1"/><path d="M544.0,542.0 A1.6,1.6 0 1 0 544.0,544.2"/><path d="M545.0,547.1 A1.6,1.6 0 1 0 545.0,549.3"/><path d="M546.0,552.2 A1.6,1.6 0 1 0 546.0,554.4"/><path d="M547.0,557.3 A1.6,1.6 0 1 0 547.0,559.5"/><path d="M529.1,437.7 A1.6,1.6 0 1 0 529.1,439.9"/><path d="M530.1,442.8 A1.6,1.6 0 1 0 530.1,445.0"/><path d="M531.1,447.9 A1.6,1.6 0 1 0 531.1,450.1"/><path d="M532.1,453.0 A1.6,1.6 0 1 0 532.1,455.2"/><path d="M533.1,458.1 A1.6,1.6 0 1 0 533.1,460.3"/><path d="M534.1,463.2 A1.6,1.6 0 1 0 534.1,465.4"/><path d="M535.1,468.3 A1.6,1.6 0 1 0 535.1,470.5"/><path d="M536.1,473.4 A1.6,1.6 0 1 0 536.1,475.6"/><path d="M537.1,478.5 A1.6,1.6 0 1 0 537.1,480.7"/><path d="M538.1,483.6 A1.6,1.6 0 1 0 538.1,485.8"/><path d="M539.1,488.7 A1.6,1.6 0 1 0 539.1,490.9"/><path d="M540.1,493.8 A1.6,1.6 0 1 0 540.1,496.0"/><path d="M541.1,498.9 A1.6,1.6 0 1 0 541.1,501.1"/><path d="M542.1,504.0 A1.6,1.6 0 1 0 542.1,506.2"/><path d="M543.1,509.1 A1.6,1.6 0 1 0 543.1,511.3"/><path d="M544.1,514.2 A1.6,1.6 0 1 0 544.1,516.4"/><path d="M545.1,519.3 A1.6,1.6 0 1 0 545.1,521.5"/><path d="M546.1,524.4 A1.6,1.6 0 1 0 546.1,526.6"/><path d="M547.1,529.5 A1.6,1.6 0 1 0 547.1,531.7"/><path d="M548.1,534.6 A1.6,1.6 0 1 0 548.1,536.8"/><path d="M549.1,539.7 A1.6,1.6 0 1 0 549.1,541.9"/><path d="M550.1,544.8 A1.6,1.6 0 1 0 550.1,547.0"/><path d="M551.1,549.9 A1.6,1.6 0 1 0 551.1,552.1"/><path d="M552.1,555.0 A1.6,1.6 0 1 0 552.1,557.2"/><path d="M534.2,435.4 A1.6,1.6 0 1 0 534.2,437.6"/><path d="M535.2,440.5 A1.6,1.6 0 1 0 535.2,442.7"/><path d="M536.2,445.6 A1.6,1.6 0 1 0 536.2,447.8"/><path d="M537.2,450.7 A1.6,1.6 0 1 0 537.2,452.9"/><path d="M538.2,455.8 A1.6,1.6 0 1 0 538.2,458.0"/><path d="M539.2,460.9 A1.6,1.6 0 1 0 539.2,463.1"/><path d="M540.2,466.0 A1.6,1.6 0 1 0 540.2,468.2"/><path d="M541.2,471.1 A1.6,1.6 0 1 0 541.2,473.3"/><path d="M542.2,476.2 A1.6,1.6 0 1 0 542.2,478.4"/><path d="M543.2,481.3 A1.6,1.6 0 1 0 543.2,483.5"/><path d="M544.2,486.4 A1.6,1.6 0 1 0 544.2,488.6"/><path d="M545.2,491.5 A1.6,1.6 0 1 0 545.2,493.7"/><path d="M546.2,496.6 A1.6,1.6 0 1 0 546.2,498.8"/><path d="M547.2,501.7 A1.6,1.6 0 1 0 547.2,503.9"/><path d="M548.2,506.8 A1.6,1.6 0 1 0 548.2,509.0"/><path d="M549.2,511.9 A1.6,1.6 0 1 0 549.2,514.1"/><path d="M550.2,517.0 A1.6,1.6 0 1 0 550.2,519.2"/><path d="M551.2,522.1 A1.6,1.6 0 1 0 551.2,524.3"/><path d="M552.2,527.2 A1.6,1.6 0 1 0 552.2,529.4"/><path d="M553.2,532.3 A1.6,1.6 0 1 0 553.2,534.5"/><path d="M554.2,537.4 A1.6,1.6 0 1 0 554.2,539.6"/><path d="M555.2,542.5 A1.6,1.6 0 1 0 555.2,544.7"/><path d="M556.2,547.6 A1.6,1.6 0 1 0 556.2,549.8"/><path d="M557.2,552.7 A1.6,1.6 0 1 0 557.2,554.9"/><path d="M539.3,433.1 A1.6,1.6 0 1 0 539.3,435.3"/><path d="M540.3,438.2 A1.6,1.6 0 1 0 540.3,440.4"/><path d="M541.3,443.3 A1.6,1.6 0 1 0 541.3,445.5"/><path d="M542.3,448.4 A1.6,1.6 0 1 0 542.3,450.6"/><path d="M543.3,453.5 A1.6,1.6 0 1 0 543.3,455.7"/><path d="M544.3,458.6 A1.6,1.6 0 1 0 544.3,460.8"/><path d="M545.3,463.7 A1.6,1.6 0 1 0 545.3,465.9"/><path d="M546.3,468.8 A1.6,1.6 0 1 0 546.3,471.0"/><path d="M547.3,473.9 A1.6,1.6 0 1 0 547.3,476.1"/><path d="M548.3,479.0 A1.6,1.6 0 1 0 548.3,481.2"/><path d="M549.3,484.1 A1.6,1.6 0 1 0 549.3,486.3"/><path d="M550.3,489.2 A1.6,1.6 0 1 0 550.3,491.4"/><path d="M551.3,494.3 A1.6,1.6 0 1 0 551.3,496.5"/><path d="M552.3,499.4 A1.6,1.6 0 1 0 552.3,501.6"/><path d="M553.3,504.5 A1.6,1.6 0 1 0 553.3,506.7"/><path d="M554.3,509.6 A1.6,1.6 0 1 0 554.3,511.8"/><path d="M555.3,514.7 A1.6,1.6 0 1 0 555.3,516.9"/><path d="M556.3,519.8 A1.6,1.6 0 1 0 556.3,522.0"/><path d="M557.3,524.9 A1.6,1.6 0 1 0 557.3,527.1"/><path d="M558.3,530.0 A1.6,1.6 0 1 0 558.3,532.2"/><path d="M559.3,535.1 A1.6,1.6 0 1 0 559.3,537.3"/><path d="M560.3,540.2 A1.6,1.6 0 1 0 560.3,542.4"/><path d="M561.3,545.3 A1.6,1.6 0 1 0 561.3,547.5"/><path d="M562.3,550.4 A1.6,1.6 0 1 0 562.3,552.6"/><path d="M544.4,430.8 A1.6,1.6 0 1 0 544.4,433.0"/><path d="M545.4,435.9 A1.6,1.6 0 1 0 545.4,438.1"/><path d="M546.4,441.0 A1.6,1.6 0 1 0 546.4,443.2"/><path d="M547.4,446.1 A1.6,1.6 0 1 0 547.4,448.3"/><path d="M548.4,451.2 A1.6,1.6 0 1 0 548.4,453.4"/><path d="M549.4,456.3 A1.6,1.6 0 1 0 549.4,458.5"/><path d="M550.4,461.4 A1.6,1.6 0 1 0 550.4,463.6"/><path d="M551.4,466.5 A1.6,1.6 0 1 0 551.4,468.7"/><path d="M552.4,471.6 A1.6,1.6 0 1 0 552.4,473.8"/><path d="M553.4,476.7 A1.6,1.6 0 1 0 553.4,478.9"/><path d="M554.4,481.8 A1.6,1.6 0 1 0 554.4,484.0"/><path d="M555.4,486.9 A1.6,1.6 0 1 0 555.4,489.1"/><path d="M556.4,492.0 A1.6,1.6 0 1 0 556.4,494.2"/><path d="M557.4,497.1 A1.6,1.6 0 1 0 557.4,499.3"/><path d="M558.4,502.2 A1.6,1.6 0 1 0 558.4,504.4"/><path d="M559.4,507.3 A1.6,1.6 0 1 0 559.4,509.5"/><path d="M560.4,512.4 A1.6,1.6 0 1 0 560.4,514.6"/><path d="M561.4,517.5 A1.6,1.6 0 1 0 561.4,519.7"/><path d="M562.4,522.6 A1.6,1.6 0 1 0 562.4,524.8"/><path d="M563.4,527.7 A1.6,1.6 0 1 0 563.4,529.9"/><path d="M564.4,532.8 A1.6,1.6 0 1 0 564.4,535.0"/><path d="M565.4,537.9 A1.6,1.6 0 1 0 565.4,540.1"/><path d="M566.4,543.0 A1.6,1.6 0 1 0 566.4,545.2"/><path d="M567.4,548.1 A1.6,1.6 0 1 0 567.4,550.3"/><path d="M549.5,428.5 A1.6,1.6 0 1 0 549.5,430.7"/><path d="M550.5,433.6 A1.6,1.6 0 1 0 550.5,435.8"/><path d="M551.5,438.7 A1.6,1.6 0 1 0 551.5,440.9"/><path d="M552.5,443.8 A1.6,1.6 0 1 0 552.5,446.0"/><path d="M553.5,448.9 A1.6,1.6 0 1 0 553.5,451.1"/><path d="M554.5,454.0 A1.6,1.6 0 1 0 554.5,456.2"/><path d="M555.5,459.1 A1.6,1.6 0 1 0 555.5,461.3"/><path d="M556.5,464.2 A1.6,1.6 0 1 0 556.5,466.4"/><path d="M557.5,469.3 A1.6,1.6 0 1 0 557.5,471.5"/><path d="M558.5,474.4 A1.6,1.6 0 1 0 558.5,476.6"/><path d="M559.5,479.5 A1.6,1.6 0 1 0 559.5,481.7"/><path d="M560.5,484.6 A1.6,1.6 0 1 0 560.5,486.8"/><path d="M561.5,489.7 A1.6,1.6 0 1 0 561.5,491.9"/><path d="M562.5,494.8 A1.6,1.6 0 1 0 562.5,497.0"/><path d="M563.5,499.9 A1.6,1.6 0 1 0 563.5,502.1"/><path d="M564.5,505.0 A1.6,1.6 0 1 0 564.5,507.2"/><path d="M565.5,510.1 A1.6,1.6 0 1 0 565.5,512.3"/><path d="M566.5,515.2 A1.6,1.6 0 1 0 566.5,517.4"/><path d="M567.5,520.3 A1.6,1.6 0 1 0 567.5,522.5"/><path d="M568.5,525.4 A1.6,1.6 0 1 0 568.5,527.6"/><path d="M569.5,530.5 A1.6,1.6 0 1 0 569.5,532.7"/><path d="M570.5,535.6 A1.6,1.6 0 1 0 570.5,537.8"/><path d="M571.5,540.7 A1.6,1.6 0 1 0 571.5,542.9"/><path d="M572.5,545.8 A1.6,1.6 0 1 0 572.5,548.0"/><path d="M554.6,426.2 A1.6,1.6 0 1 0 554.6,428.4"/><path d="M555.6,431.3 A1.6,1.6 0 1 0 555.6,433.5"/><path d="M556.6,436.4 A1.6,1.6 0 1 0 556.6,438.6"/><path d="M557.6,441.5 A1.6,1.6 0 1 0 557.6,443.7"/><path d="M558.6,446.6 A1.6,1.6 0 1 0 558.6,448.8"/><path d="M559.6,451.7 A1.6,1.6 0 1 0 559.6,453.9"/><path d="M560.6,456.8 A1.6,1.6 0 1 0 560.6,459.0"/><path d="M561.6,461.9 A1.6,1.6 0 1 0 561.6,464.1"/><path d="M562.6,467.0 A1.6,1.6 0 1 0 562.6,469.2"/><path d="M563.6,472.1 A1.6,1.6 0 1 0 563.6,474.3"/><path d="M564.6,477.2 A1.6,1.6 0 1 0 564.6,479.4"/><path d="M565.6,482.3 A1.6,1.6 0 1 0 565.6,484.5"/><path d="M566.6,487.4 A1.6,1.6 0 1 0 566.6,489.6"/><path d="M567.6,492.5 A1.6,1.6 0 1 0 567.6,494.7"/><path d="M568.6,497.6 A1.6,1.6 0 1 0 568.6,499.8"/><path d="M569.6,502.7 A1.6,1.6 0 1 0 569.6,504.9"/><path d="M570.6,507.8 A1.6,1.6 0 1 0 570.6,510.0"/><path d="M571.6,512.9 A1.6,1.6 0 1 0 571.6,515.1"/><path d="M572.6,518.0 A1.6,1.6 0 1 0 572.6,520.2"/><path d="M573.6,523.1 A1.6,1.6 0 1 0 573.6,525.3"/><path d="M574.6,528.2 A1.6,1.6 0 1 0 574.6,530.4"/><path d="M575.6,533.3 A1.6,1.6 0 1 0 575.6,535.5"/><path d="M576.6,538.4 A1.6,1.6 0 1 0 576.6,540.6"/><path d="M577.6,543.5 A1.6,1.6 0 1 0 577.6,545.7"/><path d="M559.7,423.9 A1.6,1.6 0 1 0 559.7,426.1"/><path d="M560.7,429.0 A1.6,1.6 0 1 0 560.7,431.2"/><path d="M561.7,434.1 A1.6,1.6 0 1 0 561.7,436.3"/><path d="M562.7,439.2 A1.6,1.6 0 1 0 562.7,441.4"/><path d="M563.7,444.3 A1.6,1.6 0 1 0 563.7,446.5"/><path d="M564.7,449.4 A1.6,1.6 0 1 0 564.7,451.6"/><path d="M565.7,454.5 A1.6,1.6 0 1 0 565.7,456.7"/><path d="M566.7,459.6 A1.6,1.6 0 1 0 566.7,461.8"/><path d="M567.7,464.7 A1.6,1.6 0 1 0 567.7,466.9"/><path d="M568.7,469.8 A1.6,1.6 0 1 0 568.7,472.0"/><path d="M569.7,474.9 A1.6,1.6 0 1 0 569.7,477.1"/><path d="M570.7,480.0 A1.6,1.6 0 1 0 570.7,482.2"/><path d="M571.7,485.1 A1.6,1.6 0 1 0 571.7,487.3"/><path d="M572.7,490.2 A1.6,1.6 0 1 0 572.7,492.4"/><path d="M573.7,495.3 A1.6,1.6 0 1 0 573.7,497.5"/><path d="M574.7,500.4 A1.6,1.6 0 1 0 574.7,502.6"/><path d="M575.7,505.5 A1.6,1.6 0 1 0 575.7,507.7"/><path d="M576.7,510.6 A1.6,1.6 0 1 0 576.7,512.8"/><path d="M577.7,515.7 A1.6,1.6 0 1 0 577.7,517.9"/><path d="M578.7,520.8 A1.6,1.6 0 1 0 578.7,523.0"/><path d="M579.7,525.9 A1.6,1.6 0 1 0 579.7,528.1"/><path d="M580.7,531.0 A1.6,1.6 0 1 0 580.7,533.2"/><path d="M581.7,536.1 A1.6,1.6 0 1 0 581.7,538.3"/><path d="M582.7,541.2 A1.6,1.6 0 1 0 582.7,543.4"/><path d="M564.8,421.6 A1.6,1.6 0 1 0 564.8,423.8"/><path d="M565.8,426.7 A1.6,1.6 0 1 0 565.8,428.9"/><path d="M566.8,431.8 A1.6,1.6 0 1 0 566.8,434.0"/><path d="M567.8,436.9 A1.6,1.6 0 1 0 567.8,439.1"/><path d="M568.8,442.0 A1.6,1.6 0 1 0 568.8,444.2"/><path d="M569.8,447.1 A1.6,1.6 0 1 0 569.8,449.3"/><path d="M570.8,452.2 A1.6,1.6 0 1 0 570.8,454.4"/><path d="M571.8,457.3 A1.6,1.6 0 1 0 571.8,459.5"/><path d="M572.8,462.4 A1.6,1.6 0 1 0 572.8,464.6"/><path d="M573.8,467.5 A1.6,1.6 0 1 0 573.8,469.7"/><path d="M574.8,472.6 A1.6,1.6 0 1 0 574.8,474.8"/><path d="M575.8,477.7 A1.6,1.6 0 1 0 575.8,479.9"/><path d="M576.8,482.8 A1.6,1.6 0 1 0 576.8,485.0"/><path d="M577.8,487.9 A1.6,1.6 0 1 0 577.8,490.1"/><path d="M578.8,493.0 A1.6,1.6 0 1 0 578.8,495.2"/><path d="M579.8,498.1 A1.6,1.6 0 1 0 579.8,500.3"/><path d="M580.8,503.2 A1.6,1.6 0 1 0 580.8,505.4"/><path d="M581.8,508.3 A1.6,1.6 0 1 0 581.8,510.5"/><path d="M582.8,513.4 A1.6,1.6 0 1 0 582.8,515.6"/><path d="M583.8,518.5 A1.6,1.6 0 1 0 583.8,520.7"/><path d="M584.8,523.6 A1.6,1.6 0 1 0 584.8,525.8"/><path d="M585.8,528.7 A1.6,1.6 0 1 0 585.8,530.9"/><path d="M586.8,533.8 A1.6,1.6 0 1 0 586.8,536.0"/><path d="M587.8,538.9 A1.6,1.6 0 1 0 587.8,541.1"/><path d="M569.9,419.3 A1.6,1.6 0 1 0 569.9,421.5"/><path d="M570.9,424.4 A1.6,1.6 0 1 0 570.9,426.6"/><path d="M571.9,429.5 A1.6,1.6 0 1 0 571.9,431.7"/><path d="M572.9,434.6 A1.6,1.6 0 1 0 572.9,436.8"/><path d="M573.9,439.7 A1.6,1.6 0 1 0 573.9,441.9"/><path d="M574.9,444.8 A1.6,1.6 0 1 0 574.9,447.0"/><path d="M575.9,449.9 A1.6,1.6 0 1 0 575.9,452.1"/><path d="M576.9,455.0 A1.6,1.6 0 1 0 576.9,457.2"/><path d="M577.9,460.1 A1.6,1.6 0 1 0 577.9,462.3"/><path d="M578.9,465.2 A1.6,1.6 0 1 0 578.9,467.4"/><path d="M579.9,470.3 A1.6,1.6 0 1 0 579.9,472.5"/><path d="M580.9,475.4 A1.6,1.6 0 1 0 580.9,477.6"/><path d="M581.9,480.5 A1.6,1.6 0 1 0 581.9,482.7"/><path d="M582.9,485.6 A1.6,1.6 0 1 0 582.9,487.8"/><path d="M583.9,490.7 A1.6,1.6 0 1 0 583.9,492.9"/><path d="M584.9,495.8 A1.6,1.6 0 1 0 584.9,498.0"/><path d="M585.9,500.9 A1.6,1.6 0 1 0 585.9,503.1"/><path d="M586.9,506.0 A1.6,1.6 0 1 0 586.9,508.2"/><path d="M587.9,511.1 A1.6,1.6 0 1 0 587.9,513.3"/><path d="M588.9,516.2 A1.6,1.6 0 1 0 588.9,518.4"/><path d="M589.9,521.3 A1.6,1.6 0 1 0 589.9,523.5"/><path d="M590.9,526.4 A1.6,1.6 0 1 0 590.9,528.6"/><path d="M591.9,531.5 A1.6,1.6 0 1 0 591.9,533.7"/><path d="M592.9,536.6 A1.6,1.6 0 1 0 592.9,538.8"/><path d="M575.0,417.0 A1.6,1.6 0 1 0 575.0,419.2"/><path d="M576.0,422.1 A1.6,1.6 0 1 0 576.0,424.3"/><path d="M577.0,427.2 A1.6,1.6 0 1 0 577.0,429.4"/><path d="M578.0,432.3 A1.6,1.6 0 1 0 578.0,434.5"/><path d="M579.0,437.4 A1.6,1.6 0 1 0 579.0,439.6"/><path d="M580.0,442.5 A1.6,1.6 0 1 0 580.0,444.7"/><path d="M581.0,447.6 A1.6,1.6 0 1 0 581.0,449.8"/><path d="M582.0,452.7 A1.6,1.6 0 1 0 582.0,454.9"/><path d="M583.0,457.8 A1.6,1.6 0 1 0 583.0,460.0"/><path d="M584.0,462.9 A1.6,1.6 0 1 0 584.0,465.1"/><path d="M585.0,468.0 A1.6,1.6 0 1 0 585.0,470.2"/><path d="M586.0,473.1 A1.6,1.6 0 1 0 586.0,475.3"/><path d="M587.0,478.2 A1.6,1.6 0 1 0 587.0,480.4"/><path d="M588.0,483.3 A1.6,1.6 0 1 0 588.0,485.5"/><path d="M589.0,488.4 A1.6,1.6 0 1 0 589.0,490.6"/><path d="M590.0,493.5 A1.6,1.6 0 1 0 590.0,495.7"/><path d="M591.0,498.6 A1.6,1.6 0 1 0 591.0,500.8"/><path d="M592.0,503.7 A1.6,1.6 0 1 0 592.0,505.9"/><path d="M593.0,508.8 A1.6,1.6 0 1 0 593.0,511.0"/><path d="M594.0,513.9 A1.6,1.6 0 1 0 594.0,516.1"/><path d="M595.0,519.0 A1.6,1.6 0 1 0 595.0,521.2"/><path d="M596.0,524.1 A1.6,1.6 0 1 0 596.0,526.3"/><path d="M597.0,529.2 A1.6,1.6 0 1 0 597.0,531.4"/><path d="M598.0,534.3 A1.6,1.6 0 1 0 598.0,536.5"/><path d="M580.1,414.7 A1.6,1.6 0 1 0 580.1,416.9"/><path d="M581.1,419.8 A1.6,1.6 0 1 0 581.1,422.0"/><path d="M582.1,424.9 A1.6,1.6 0 1 0 582.1,427.1"/><path d="M583.1,430.0 A1.6,1.6 0 1 0 583.1,432.2"/><path d="M584.1,435.1 A1.6,1.6 0 1 0 584.1,437.3"/><path d="M585.1,440.2 A1.6,1.6 0 1 0 585.1,442.4"/><path d="M586.1,445.3 A1.6,1.6 0 1 0 586.1,447.5"/><path d="M587.1,450.4 A1.6,1.6 0 1 0 587.1,452.6"/><path d="M588.1,455.5 A1.6,1.6 0 1 0 588.1,457.7"/><path d="M589.1,460.6 A1.6,1.6 0 1 0 589.1,462.8"/><path d="M590.1,465.7 A1.6,1.6 0 1 0 590.1,467.9"/><path d="M591.1,470.8 A1.6,1.6 0 1 0 591.1,473.0"/><path d="M592.1,475.9 A1.6,1.6 0 1 0 592.1,478.1"/><path d="M593.1,481.0 A1.6,1.6 0 1 0 593.1,483.2"/><path d="M594.1,486.1 A1.6,1.6 0 1 0 594.1,488.3"/><path d="M595.1,491.2 A1.6,1.6 0 1 0 595.1,493.4"/><path d="M596.1,496.3 A1.6,1.6 0 1 0 596.1,498.5"/><path d="M597.1,501.4 A1.6,1.6 0 1 0 597.1,503.6"/><path d="M598.1,506.5 A1.6,1.6 0 1 0 598.1,508.7"/><path d="M599.1,511.6 A1.6,1.6 0 1 0 599.1,513.8"/><path d="M600.1,516.7 A1.6,1.6 0 1 0 600.1,518.9"/><path d="M601.1,521.8 A1.6,1.6 0 1 0 601.1,524.0"/><path d="M602.1,526.9 A1.6,1.6 0 1 0 602.1,529.1"/><path d="M603.1,532.0 A1.6,1.6 0 1 0 603.1,534.2"/><path d="M585.2,412.4 A1.6,1.6 0 1 0 585.2,414.6"/><path d="M586.2,417.5 A1.6,1.6 0 1 0 586.2,419.7"/><path d="M587.2,422.6 A1.6,1.6 0 1 0 587.2,424.8"/><path d="M588.2,427.7 A1.6,1.6 0 1 0 588.2,429.9"/><path d="M589.2,432.8 A1.6,1.6 0 1 0 589.2,435.0"/><path d="M590.2,437.9 A1.6,1.6 0 1 0 590.2,440.1"/><path d="M591.2,443.0 A1.6,1.6 0 1 0 591.2,445.2"/><path d="M592.2,448.1 A1.6,1.6 0 1 0 592.2,450.3"/><path d="M593.2,453.2 A1.6,1.6 0 1 0 593.2,455.4"/><path d="M594.2,458.3 A1.6,1.6 0 1 0 594.2,460.5"/><path d="M595.2,463.4 A1.6,1.6 0 1 0 595.2,465.6"/><path d="M596.2,468.5 A1.6,1.6 0 1 0 596.2,470.7"/><path d="M597.2,473.6 A1.6,1.6 0 1 0 597.2,475.8"/><path d="M598.2,478.7 A1.6,1.6 0 1 0 598.2,480.9"/><path d="M599.2,483.8 A1.6,1.6 0 1 0 599.2,486.0"/><path d="M600.2,488.9 A1.6,1.6 0 1 0 600.2,491.1"/><path d="M601.2,494.0 A1.6,1.6 0 1 0 601.2,496.2"/><path d="M602.2,499.1 A1.6,1.6 0 1 0 602.2,501.3"/><path d="M603.2,504.2 A1.6,1.6 0 1 0 603.2,506.4"/><path d="M604.2,509.3 A1.6,1.6 0 1 0 604.2,511.5"/><path d="M605.2,514.4 A1.6,1.6 0 1 0 605.2,516.6"/><path d="M606.2,519.5 A1.6,1.6 0 1 0 606.2,521.7"/><path d="M607.2,524.6 A1.6,1.6 0 1 0 607.2,526.8"/><path d="M608.2,529.7 A1.6,1.6 0 1 0 608.2,531.9"/><path d="M590.3,410.1 A1.6,1.6 0 1 0 590.3,412.3"/><path d="M591.3,415.2 A1.6,1.6 0 1 0 591.3,417.4"/><path d="M592.3,420.3 A1.6,1.6 0 1 0 592.3,422.5"/><path d="M593.3,425.4 A1.6,1.6 0 1 0 593.3,427.6"/><path d="M594.3,430.5 A1.6,1.6 0 1 0 594.3,432.7"/><path d="M595.3,435.6 A1.6,1.6 0 1 0 595.3,437.8"/><path d="M596.3,440.7 A1.6,1.6 0 1 0 596.3,442.9"/><path d="M597.3,445.8 A1.6,1.6 0 1 0 597.3,448.0"/><path d="M598.3,450.9 A1.6,1.6 0 1 0 598.3,453.1"/><path d="M599.3,456.0 A1.6,1.6 0 1 0 599.3,458.2"/><path d="M600.3,461.1 A1.6,1.6 0 1 0 600.3,463.3"/><path d="M601.3,466.2 A1.6,1.6 0 1 0 601.3,468.4"/><path d="M602.3,471.3 A1.6,1.6 0 1 0 602.3,473.5"/><path d="M603.3,476.4 A1.6,1.6 0 1 0 603.3,478.6"/><path d="M604.3,481.5 A1.6,1.6 0 1 0 604.3,483.7"/><path d="M605.3,486.6 A1.6,1.6 0 1 0 605.3,488.8"/><path d="M606.3,491.7 A1.6,1.6 0 1 0 606.3,493.9"/><path d="M607.3,496.8 A1.6,1.6 0 1 0 607.3,499.0"/><path d="M608.3,501.9 A1.6,1.6 0 1 0 608.3,504.1"/><path d="M609.3,507.0 A1.6,1.6 0 1 0 609.3,509.2"/><path d="M610.3,512.1 A1.6,1.6 0 1 0 610.3,514.3"/><path d="M611.3,517.2 A1.6,1.6 0 1 0 611.3,519.4"/><path d="M612.3,522.3 A1.6,1.6 0 1 0 612.3,524.5"/><path d="M613.3,527.4 A1.6,1.6 0 1 0 613.3,529.6"/><path d="M595.4,407.8 A1.6,1.6 0 1 0 595.4,410.0"/><path d="M596.4,412.9 A1.6,1.6 0 1 0 596.4,415.1"/><path d="M597.4,418.0 A1.6,1.6 0 1 0 597.4,420.2"/><path d="M598.4,423.1 A1.6,1.6 0 1 0 598.4,425.3"/><path d="M599.4,428.2 A1.6,1.6 0 1 0 599.4,430.4"/><path d="M600.4,433.3 A1.6,1.6 0 1 0 600.4,435.5"/><path d="M601.4,438.4 A1.6,1.6 0 1 0 601.4,440.6"/><path d="M602.4,443.5 A1.6,1.6 0 1 0 602.4,445.7"/><path d="M603.4,448.6 A1.6,1.6 0 1 0 603.4,450.8"/><path d="M604.4,453.7 A1.6,1.6 0 1 0 604.4,455.9"/><path d="M605.4,458.8 A1.6,1.6 0 1 0 605.4,461.0"/><path d="M606.4,463.9 A1.6,1.6 0 1 0 606.4,466.1"/><path d="M607.4,469.0 A1.6,1.6 0 1 0 607.4,471.2"/><path d="M608.4,474.1 A1.6,1.6 0 1 0 608.4,476.3"/><path d="M609.4,479.2 A1.6,1.6 0 1 0 609.4,481.4"/><path d="M610.4,484.3 A1.6,1.6 0 1 0 610.4,486.5"/><path d="M611.4,489.4 A1.6,1.6 0 1 0 611.4,491.6"/><path d="M612.4,494.5 A1.6,1.6 0 1 0 612.4,496.7"/><path d="M613.4,499.6 A1.6,1.6 0 1 0 613.4,501.8"/><path d="M614.4,504.7 A1.6,1.6 0 1 0 614.4,506.9"/><path d="M615.4,509.8 A1.6,1.6 0 1 0 615.4,512.0"/><path d="M616.4,514.9 A1.6,1.6 0 1 0 616.4,517.1"/><path d="M617.4,520.0 A1.6,1.6 0 1 0 617.4,522.2"/><path d="M618.4,525.1 A1.6,1.6 0 1 0 618.4,527.3"/></g>
<path d="M568,469 C572,474 574.5,478 576,485 C577.5,492 577.5,500 577,505 C576,511 574.5,515 572.6,518" fill="none" stroke="#222" stroke-width="0.8"/>
<ellipse cx="488" cy="494" rx="3.3" ry="3.8" fill="#fff" stroke="#222" stroke-width="1"/><ellipse cx="489" cy="494.5" rx="1.6" ry="2" fill="none" stroke="#222" stroke-width="0.8"/>
<ellipse cx="557.5" cy="468.4" rx="3" ry="3.5" fill="#fff" stroke="#222" stroke-width="1"/><ellipse cx="558.3" cy="468.8" rx="1.4" ry="1.8" fill="none" stroke="#222" stroke-width="0.8"/>
<ellipse cx="496.5" cy="530.6" rx="1.8" ry="2.4" transform="rotate(40 496.5 530.6)" fill="#fff" stroke="#222" stroke-width="1"/>
<circle cx="505.3" cy="546.5" r="2.2" fill="#fff" stroke="#222" stroke-width="1"/>
<ellipse cx="543" cy="557.5" rx="2.2" ry="2.8" fill="#fff" stroke="#222" stroke-width="1"/>
<path d="M615.3,531.2 L630.5,521 L632,496.6 L630,489.3 L632,479.9 L655,470.5 L661.3,471.5 L666.6,479.9 L669.7,485.1 L680.2,486.2 L694.8,491.4 C699.5,493.5 703.5,496 706.5,499 C710,502.5 712.5,507 714.3,512 C716.3,518 717.2,524 717.2,529.5 C717.3,536 716.5,541 715,546 C712.5,553 709,559 704.5,564.5 C700,570 696,574 690,577.5 L676,583.6 L657.1,582.5 L646.7,585.7 L634.1,589.8 L630,586 L598.5,583.6 L567.1,568.9 L569.2,556.3 L573.4,554.2 L617.4,550 L613.2,539.6 Z" fill="#fff" stroke="#222" stroke-width="1.05" stroke-linejoin="round"/>
<path d="M615.3,531.2 L690.7,498.7 M630,489.3 L663.4,491.4 L663.4,500.8 L634.1,495.6 M638.3,480.9 L655,475.7 L660.3,477.8 L661.3,489.3 M644.6,485.1 L660.3,477.8 M663.4,491.4 L669.7,485.1 M666.6,479.9 L672,492 M615.3,531.2 L619.5,548 L630,574.1 L634.1,589.8 M573.4,554.2 L611.1,573.1 L630,574.1 M617.4,550 L611.1,573.1 M567.1,568.9 L609,568.9 M630,574.1 C640,560 648,552 650.9,548 L663.4,575.2 M600,578 L602,584" fill="none" stroke="#222" stroke-width="0.8"/>
<clipPath id="c2"><path d="M648.8,535.4 L694.8,508.2 L708.0,514.5 L711.0,530.0 L709.5,539.6 L698.0,555.0 L689.0,564.7 L663.4,575.2 L650.9,548.0 Z"/></clipPath><g clip-path="url(#c2)" fill="none" stroke="#333" stroke-width="1.0"><path d="M597.7,512.7 A1.6,1.6 0 1 0 597.7,514.9"/><path d="M598.7,517.8 A1.6,1.6 0 1 0 598.7,520.0"/><path d="M599.7,522.9 A1.6,1.6 0 1 0 599.7,525.1"/><path d="M600.7,528.0 A1.6,1.6 0 1 0 600.7,530.2"/><path d="M601.7,533.1 A1.6,1.6 0 1 0 601.7,535.3"/><path d="M602.7,538.2 A1.6,1.6 0 1 0 602.7,540.4"/><path d="M603.7,543.3 A1.6,1.6 0 1 0 603.7,545.5"/><path d="M604.7,548.4 A1.6,1.6 0 1 0 604.7,550.6"/><path d="M605.7,553.5 A1.6,1.6 0 1 0 605.7,555.7"/><path d="M606.7,558.6 A1.6,1.6 0 1 0 606.7,560.8"/><path d="M607.7,563.7 A1.6,1.6 0 1 0 607.7,565.9"/><path d="M608.7,568.8 A1.6,1.6 0 1 0 608.7,571.0"/><path d="M609.7,573.9 A1.6,1.6 0 1 0 609.7,576.1"/><path d="M610.7,579.0 A1.6,1.6 0 1 0 610.7,581.2"/><path d="M611.7,584.1 A1.6,1.6 0 1 0 611.7,586.3"/><path d="M612.7,589.2 A1.6,1.6 0 1 0 612.7,591.4"/><path d="M613.7,594.3 A1.6,1.6 0 1 0 613.7,596.5"/><path d="M614.7,599.4 A1.6,1.6 0 1 0 614.7,601.6"/><path d="M615.7,604.5 A1.6,1.6 0 1 0 615.7,606.7"/><path d="M616.7,609.6 A1.6,1.6 0 1 0 616.7,611.8"/><path d="M617.7,614.7 A1.6,1.6 0 1 0 617.7,616.9"/><path d="M618.7,619.8 A1.6,1.6 0 1 0 618.7,622.0"/><path d="M619.7,624.9 A1.6,1.6 0 1 0 619.7,627.1"/><path d="M620.7,630.0 A1.6,1.6 0 1 0 620.7,632.2"/><path d="M602.8,510.2 A1.6,1.6 0 1 0 602.8,512.4"/><path d="M603.8,515.3 A1.6,1.6 0 1 0 603.8,517.5"/><path d="M604.8,520.4 A1.6,1.6 0 1 0 604.8,522.6"/><path d="M605.8,525.5 A1.6,1.6 0 1 0 605.8,527.7"/><path d="M606.8,530.6 A1.6,1.6 0 1 0 606.8,532.8"/><path d="M607.8,535.7 A1.6,1.6 0 1 0 607.8,537.9"/><path d="M608.8,540.8 A1.6,1.6 0 1 0 608.8,543.0"/><path d="M609.8,545.9 A1.6,1.6 0 1 0 609.8,548.1"/><path d="M610.8,551.0 A1.6,1.6 0 1 0 610.8,553.2"/><path d="M611.8,556.1 A1.6,1.6 0 1 0 611.8,558.3"/><path d="M612.8,561.2 A1.6,1.6 0 1 0 612.8,563.4"/><path d="M613.8,566.3 A1.6,1.6 0 1 0 613.8,568.5"/><path d="M614.8,571.4 A1.6,1.6 0 1 0 614.8,573.6"/><path d="M615.8,576.5 A1.6,1.6 0 1 0 615.8,578.7"/><path d="M616.8,581.6 A1.6,1.6 0 1 0 616.8,583.8"/><path d="M617.8,586.7 A1.6,1.6 0 1 0 617.8,588.9"/><path d="M618.8,591.8 A1.6,1.6 0 1 0 618.8,594.0"/><path d="M619.8,596.9 A1.6,1.6 0 1 0 619.8,599.1"/><path d="M620.8,602.0 A1.6,1.6 0 1 0 620.8,604.2"/><path d="M621.8,607.1 A1.6,1.6 0 1 0 621.8,609.3"/><path d="M622.8,612.2 A1.6,1.6 0 1 0 622.8,614.4"/><path d="M623.8,617.3 A1.6,1.6 0 1 0 623.8,619.5"/><path d="M624.8,622.4 A1.6,1.6 0 1 0 624.8,624.6"/><path d="M625.8,627.5 A1.6,1.6 0 1 0 625.8,629.7"/><path d="M607.9,507.7 A1.6,1.6 0 1 0 607.9,509.9"/><path d="M608.9,512.8 A1.6,1.6 0 1 0 608.9,515.0"/><path d="M609.9,517.9 A1.6,1.6 0 1 0 609.9,520.1"/><path d="M610.9,523.0 A1.6,1.6 0 1 0 610.9,525.2"/><path d="M611.9,528.1 A1.6,1.6 0 1 0 611.9,530.3"/><path d="M612.9,533.2 A1.6,1.6 0 1 0 612.9,535.4"/><path d="M613.9,538.3 A1.6,1.6 0 1 0 613.9,540.5"/><path d="M614.9,543.4 A1.6,1.6 0 1 0 614.9,545.6"/><path d="M615.9,548.5 A1.6,1.6 0 1 0 615.9,550.7"/><path d="M616.9,553.6 A1.6,1.6 0 1 0 616.9,555.8"/><path d="M617.9,558.7 A1.6,1.6 0 1 0 617.9,560.9"/><path d="M618.9,563.8 A1.6,1.6 0 1 0 618.9,566.0"/><path d="M619.9,568.9 A1.6,1.6 0 1 0 619.9,571.1"/><path d="M620.9,574.0 A1.6,1.6 0 1 0 620.9,576.2"/><path d="M621.9,579.1 A1.6,1.6 0 1 0 621.9,581.3"/><path d="M622.9,584.2 A1.6,1.6 0 1 0 622.9,586.4"/><path d="M623.9,589.3 A1.6,1.6 0 1 0 623.9,591.5"/><path d="M624.9,594.4 A1.6,1.6 0 1 0 624.9,596.6"/><path d="M625.9,599.5 A1.6,1.6 0 1 0 625.9,601.7"/><path d="M626.9,604.6 A1.6,1.6 0 1 0 626.9,606.8"/><path d="M627.9,609.7 A1.6,1.6 0 1 0 627.9,611.9"/><path d="M628.9,614.8 A1.6,1.6 0 1 0 628.9,617.0"/><path d="M629.9,619.9 A1.6,1.6 0 1 0 629.9,622.1"/><path d="M630.9,625.0 A1.6,1.6 0 1 0 630.9,627.2"/><path d="M613.0,505.2 A1.6,1.6 0 1 0 613.0,507.4"/><path d="M614.0,510.3 A1.6,1.6 0 1 0 614.0,512.5"/><path d="M615.0,515.4 A1.6,1.6 0 1 0 615.0,517.6"/><path d="M616.0,520.5 A1.6,1.6 0 1 0 616.0,522.7"/><path d="M617.0,525.6 A1.6,1.6 0 1 0 617.0,527.8"/><path d="M618.0,530.7 A1.6,1.6 0 1 0 618.0,532.9"/><path d="M619.0,535.8 A1.6,1.6 0 1 0 619.0,538.0"/><path d="M620.0,540.9 A1.6,1.6 0 1 0 620.0,543.1"/><path d="M621.0,546.0 A1.6,1.6 0 1 0 621.0,548.2"/><path d="M622.0,551.1 A1.6,1.6 0 1 0 622.0,553.3"/><path d="M623.0,556.2 A1.6,1.6 0 1 0 623.0,558.4"/><path d="M624.0,561.3 A1.6,1.6 0 1 0 624.0,563.5"/><path d="M625.0,566.4 A1.6,1.6 0 1 0 625.0,568.6"/><path d="M626.0,571.5 A1.6,1.6 0 1 0 626.0,573.7"/><path d="M627.0,576.6 A1.6,1.6 0 1 0 627.0,578.8"/><path d="M628.0,581.7 A1.6,1.6 0 1 0 628.0,583.9"/><path d="M629.0,586.8 A1.6,1.6 0 1 0 629.0,589.0"/><path d="M630.0,591.9 A1.6,1.6 0 1 0 630.0,594.1"/><path d="M631.0,597.0 A1.6,1.6 0 1 0 631.0,599.2"/><path d="M632.0,602.1 A1.6,1.6 0 1 0 632.0,604.3"/><path d="M633.0,607.2 A1.6,1.6 0 1 0 633.0,609.4"/><path d="M634.0,612.3 A1.6,1.6 0 1 0 634.0,614.5"/><path d="M635.0,617.4 A1.6,1.6 0 1 0 635.0,619.6"/><path d="M636.0,622.5 A1.6,1.6 0 1 0 636.0,624.7"/><path d="M618.1,502.7 A1.6,1.6 0 1 0 618.1,504.9"/><path d="M619.1,507.8 A1.6,1.6 0 1 0 619.1,510.0"/><path d="M620.1,512.9 A1.6,1.6 0 1 0 620.1,515.1"/><path d="M621.1,518.0 A1.6,1.6 0 1 0 621.1,520.2"/><path d="M622.1,523.1 A1.6,1.6 0 1 0 622.1,525.3"/><path d="M623.1,528.2 A1.6,1.6 0 1 0 623.1,530.4"/><path d="M624.1,533.3 A1.6,1.6 0 1 0 624.1,535.5"/><path d="M625.1,538.4 A1.6,1.6 0 1 0 625.1,540.6"/><path d="M626.1,543.5 A1.6,1.6 0 1 0 626.1,545.7"/><path d="M627.1,548.6 A1.6,1.6 0 1 0 627.1,550.8"/><path d="M628.1,553.7 A1.6,1.6 0 1 0 628.1,555.9"/><path d="M629.1,558.8 A1.6,1.6 0 1 0 629.1,561.0"/><path d="M630.1,563.9 A1.6,1.6 0 1 0 630.1,566.1"/><path d="M631.1,569.0 A1.6,1.6 0 1 0 631.1,571.2"/><path d="M632.1,574.1 A1.6,1.6 0 1 0 632.1,576.3"/><path d="M633.1,579.2 A1.6,1.6 0 1 0 633.1,581.4"/><path d="M634.1,584.3 A1.6,1.6 0 1 0 634.1,586.5"/><path d="M635.1,589.4 A1.6,1.6 0 1 0 635.1,591.6"/><path d="M636.1,594.5 A1.6,1.6 0 1 0 636.1,596.7"/><path d="M637.1,599.6 A1.6,1.6 0 1 0 637.1,601.8"/><path d="M638.1,604.7 A1.6,1.6 0 1 0 638.1,606.9"/><path d="M639.1,609.8 A1.6,1.6 0 1 0 639.1,612.0"/><path d="M640.1,614.9 A1.6,1.6 0 1 0 640.1,617.1"/><path d="M641.1,620.0 A1.6,1.6 0 1 0 641.1,622.2"/><path d="M623.2,500.2 A1.6,1.6 0 1 0 623.2,502.4"/><path d="M624.2,505.3 A1.6,1.6 0 1 0 624.2,507.5"/><path d="M625.2,510.4 A1.6,1.6 0 1 0 625.2,512.6"/><path d="M626.2,515.5 A1.6,1.6 0 1 0 626.2,517.7"/><path d="M627.2,520.6 A1.6,1.6 0 1 0 627.2,522.8"/><path d="M628.2,525.7 A1.6,1.6 0 1 0 628.2,527.9"/><path d="M629.2,530.8 A1.6,1.6 0 1 0 629.2,533.0"/><path d="M630.2,535.9 A1.6,1.6 0 1 0 630.2,538.1"/><path d="M631.2,541.0 A1.6,1.6 0 1 0 631.2,543.2"/><path d="M632.2,546.1 A1.6,1.6 0 1 0 632.2,548.3"/><path d="M633.2,551.2 A1.6,1.6 0 1 0 633.2,553.4"/><path d="M634.2,556.3 A1.6,1.6 0 1 0 634.2,558.5"/><path d="M635.2,561.4 A1.6,1.6 0 1 0 635.2,563.6"/><path d="M636.2,566.5 A1.6,1.6 0 1 0 636.2,568.7"/><path d="M637.2,571.6 A1.6,1.6 0 1 0 637.2,573.8"/><path d="M638.2,576.7 A1.6,1.6 0 1 0 638.2,578.9"/><path d="M639.2,581.8 A1.6,1.6 0 1 0 639.2,584.0"/><path d="M640.2,586.9 A1.6,1.6 0 1 0 640.2,589.1"/><path d="M641.2,592.0 A1.6,1.6 0 1 0 641.2,594.2"/><path d="M642.2,597.1 A1.6,1.6 0 1 0 642.2,599.3"/><path d="M643.2,602.2 A1.6,1.6 0 1 0 643.2,604.4"/><path d="M644.2,607.3 A1.6,1.6 0 1 0 644.2,609.5"/><path d="M645.2,612.4 A1.6,1.6 0 1 0 645.2,614.6"/><path d="M646.2,617.5 A1.6,1.6 0 1 0 646.2,619.7"/><path d="M628.3,497.7 A1.6,1.6 0 1 0 628.3,499.9"/><path d="M629.3,502.8 A1.6,1.6 0 1 0 629.3,505.0"/><path d="M630.3,507.9 A1.6,1.6 0 1 0 630.3,510.1"/><path d="M631.3,513.0 A1.6,1.6 0 1 0 631.3,515.2"/><path d="M632.3,518.1 A1.6,1.6 0 1 0 632.3,520.3"/><path d="M633.3,523.2 A1.6,1.6 0 1 0 633.3,525.4"/><path d="M634.3,528.3 A1.6,1.6 0 1 0 634.3,530.5"/><path d="M635.3,533.4 A1.6,1.6 0 1 0 635.3,535.6"/><path d="M636.3,538.5 A1.6,1.6 0 1 0 636.3,540.7"/><path d="M637.3,543.6 A1.6,1.6 0 1 0 637.3,545.8"/><path d="M638.3,548.7 A1.6,1.6 0 1 0 638.3,550.9"/><path d="M639.3,553.8 A1.6,1.6 0 1 0 639.3,556.0"/><path d="M640.3,558.9 A1.6,1.6 0 1 0 640.3,561.1"/><path d="M641.3,564.0 A1.6,1.6 0 1 0 641.3,566.2"/><path d="M642.3,569.1 A1.6,1.6 0 1 0 642.3,571.3"/><path d="M643.3,574.2 A1.6,1.6 0 1 0 643.3,576.4"/><path d="M644.3,579.3 A1.6,1.6 0 1 0 644.3,581.5"/><path d="M645.3,584.4 A1.6,1.6 0 1 0 645.3,586.6"/><path d="M646.3,589.5 A1.6,1.6 0 1 0 646.3,591.7"/><path d="M647.3,594.6 A1.6,1.6 0 1 0 647.3,596.8"/><path d="M648.3,599.7 A1.6,1.6 0 1 0 648.3,601.9"/><path d="M649.3,604.8 A1.6,1.6 0 1 0 649.3,607.0"/><path d="M650.3,609.9 A1.6,1.6 0 1 0 650.3,612.1"/><path d="M651.3,615.0 A1.6,1.6 0 1 0 651.3,617.2"/><path d="M633.4,495.2 A1.6,1.6 0 1 0 633.4,497.4"/><path d="M634.4,500.3 A1.6,1.6 0 1 0 634.4,502.5"/><path d="M635.4,505.4 A1.6,1.6 0 1 0 635.4,507.6"/><path d="M636.4,510.5 A1.6,1.6 0 1 0 636.4,512.7"/><path d="M637.4,515.6 A1.6,1.6 0 1 0 637.4,517.8"/><path d="M638.4,520.7 A1.6,1.6 0 1 0 638.4,522.9"/><path d="M639.4,525.8 A1.6,1.6 0 1 0 639.4,528.0"/><path d="M640.4,530.9 A1.6,1.6 0 1 0 640.4,533.1"/><path d="M641.4,536.0 A1.6,1.6 0 1 0 641.4,538.2"/><path d="M642.4,541.1 A1.6,1.6 0 1 0 642.4,543.3"/><path d="M643.4,546.2 A1.6,1.6 0 1 0 643.4,548.4"/><path d="M644.4,551.3 A1.6,1.6 0 1 0 644.4,553.5"/><path d="M645.4,556.4 A1.6,1.6 0 1 0 645.4,558.6"/><path d="M646.4,561.5 A1.6,1.6 0 1 0 646.4,563.7"/><path d="M647.4,566.6 A1.6,1.6 0 1 0 647.4,568.8"/><path d="M648.4,571.7 A1.6,1.6 0 1 0 648.4,573.9"/><path d="M649.4,576.8 A1.6,1.6 0 1 0 649.4,579.0"/><path d="M650.4,581.9 A1.6,1.6 0 1 0 650.4,584.1"/><path d="M651.4,587.0 A1.6,1.6 0 1 0 651.4,589.2"/><path d="M652.4,592.1 A1.6,1.6 0 1 0 652.4,594.3"/><path d="M653.4,597.2 A1.6,1.6 0 1 0 653.4,599.4"/><path d="M654.4,602.3 A1.6,1.6 0 1 0 654.4,604.5"/><path d="M655.4,607.4 A1.6,1.6 0 1 0 655.4,609.6"/><path d="M656.4,612.5 A1.6,1.6 0 1 0 656.4,614.7"/><path d="M638.5,492.7 A1.6,1.6 0 1 0 638.5,494.9"/><path d="M639.5,497.8 A1.6,1.6 0 1 0 639.5,500.0"/><path d="M640.5,502.9 A1.6,1.6 0 1 0 640.5,505.1"/><path d="M641.5,508.0 A1.6,1.6 0 1 0 641.5,510.2"/><path d="M642.5,513.1 A1.6,1.6 0 1 0 642.5,515.3"/><path d="M643.5,518.2 A1.6,1.6 0 1 0 643.5,520.4"/><path d="M644.5,523.3 A1.6,1.6 0 1 0 644.5,525.5"/><path d="M645.5,528.4 A1.6,1.6 0 1 0 645.5,530.6"/><path d="M646.5,533.5 A1.6,1.6 0 1 0 646.5,535.7"/><path d="M647.5,538.6 A1.6,1.6 0 1 0 647.5,540.8"/><path d="M648.5,543.7 A1.6,1.6 0 1 0 648.5,545.9"/><path d="M649.5,548.8 A1.6,1.6 0 1 0 649.5,551.0"/><path d="M650.5,553.9 A1.6,1.6 0 1 0 650.5,556.1"/><path d="M651.5,559.0 A1.6,1.6 0 1 0 651.5,561.2"/><path d="M652.5,564.1 A1.6,1.6 0 1 0 652.5,566.3"/><path d="M653.5,569.2 A1.6,1.6 0 1 0 653.5,571.4"/><path d="M654.5,574.3 A1.6,1.6 0 1 0 654.5,576.5"/><path d="M655.5,579.4 A1.6,1.6 0 1 0 655.5,581.6"/><path d="M656.5,584.5 A1.6,1.6 0 1 0 656.5,586.7"/><path d="M657.5,589.6 A1.6,1.6 0 1 0 657.5,591.8"/><path d="M658.5,594.7 A1.6,1.6 0 1 0 658.5,596.9"/><path d="M659.5,599.8 A1.6,1.6 0 1 0 659.5,602.0"/><path d="M660.5,604.9 A1.6,1.6 0 1 0 660.5,607.1"/><path d="M661.5,610.0 A1.6,1.6 0 1 0 661.5,612.2"/><path d="M643.6,490.2 A1.6,1.6 0 1 0 643.6,492.4"/><path d="M644.6,495.3 A1.6,1.6 0 1 0 644.6,497.5"/><path d="M645.6,500.4 A1.6,1.6 0 1 0 645.6,502.6"/><path d="M646.6,505.5 A1.6,1.6 0 1 0 646.6,507.7"/><path d="M647.6,510.6 A1.6,1.6 0 1 0 647.6,512.8"/><path d="M648.6,515.7 A1.6,1.6 0 1 0 648.6,517.9"/><path d="M649.6,520.8 A1.6,1.6 0 1 0 649.6,523.0"/><path d="M650.6,525.9 A1.6,1.6 0 1 0 650.6,528.1"/><path d="M651.6,531.0 A1.6,1.6 0 1 0 651.6,533.2"/><path d="M652.6,536.1 A1.6,1.6 0 1 0 652.6,538.3"/><path d="M653.6,541.2 A1.6,1.6 0 1 0 653.6,543.4"/><path d="M654.6,546.3 A1.6,1.6 0 1 0 654.6,548.5"/><path d="M655.6,551.4 A1.6,1.6 0 1 0 655.6,553.6"/><path d="M656.6,556.5 A1.6,1.6 0 1 0 656.6,558.7"/><path d="M657.6,561.6 A1.6,1.6 0 1 0 657.6,563.8"/><path d="M658.6,566.7 A1.6,1.6 0 1 0 658.6,568.9"/><path d="M659.6,571.8 A1.6,1.6 0 1 0 659.6,574.0"/><path d="M660.6,576.9 A1.6,1.6 0 1 0 660.6,579.1"/><path d="M661.6,582.0 A1.6,1.6 0 1 0 661.6,584.2"/><path d="M662.6,587.1 A1.6,1.6 0 1 0 662.6,589.3"/><path d="M663.6,592.2 A1.6,1.6 0 1 0 663.6,594.4"/><path d="M664.6,597.3 A1.6,1.6 0 1 0 664.6,599.5"/><path d="M665.6,602.4 A1.6,1.6 0 1 0 665.6,604.6"/><path d="M666.6,607.5 A1.6,1.6 0 1 0 666.6,609.7"/><path d="M648.7,487.7 A1.6,1.6 0 1 0 648.7,489.9"/><path d="M649.7,492.8 A1.6,1.6 0 1 0 649.7,495.0"/><path d="M650.7,497.9 A1.6,1.6 0 1 0 650.7,500.1"/><path d="M651.7,503.0 A1.6,1.6 0 1 0 651.7,505.2"/><path d="M652.7,508.1 A1.6,1.6 0 1 0 652.7,510.3"/><path d="M653.7,513.2 A1.6,1.6 0 1 0 653.7,515.4"/><path d="M654.7,518.3 A1.6,1.6 0 1 0 654.7,520.5"/><path d="M655.7,523.4 A1.6,1.6 0 1 0 655.7,525.6"/><path d="M656.7,528.5 A1.6,1.6 0 1 0 656.7,530.7"/><path d="M657.7,533.6 A1.6,1.6 0 1 0 657.7,535.8"/><path d="M658.7,538.7 A1.6,1.6 0 1 0 658.7,540.9"/><path d="M659.7,543.8 A1.6,1.6 0 1 0 659.7,546.0"/><path d="M660.7,548.9 A1.6,1.6 0 1 0 660.7,551.1"/><path d="M661.7,554.0 A1.6,1.6 0 1 0 661.7,556.2"/><path d="M662.7,559.1 A1.6,1.6 0 1 0 662.7,561.3"/><path d="M663.7,564.2 A1.6,1.6 0 1 0 663.7,566.4"/><path d="M664.7,569.3 A1.6,1.6 0 1 0 664.7,571.5"/><path d="M665.7,574.4 A1.6,1.6 0 1 0 665.7,576.6"/><path d="M666.7,579.5 A1.6,1.6 0 1 0 666.7,581.7"/><path d="M667.7,584.6 A1.6,1.6 0 1 0 667.7,586.8"/><path d="M668.7,589.7 A1.6,1.6 0 1 0 668.7,591.9"/><path d="M669.7,594.8 A1.6,1.6 0 1 0 669.7,597.0"/><path d="M670.7,599.9 A1.6,1.6 0 1 0 670.7,602.1"/><path d="M671.7,605.0 A1.6,1.6 0 1 0 671.7,607.2"/><path d="M653.8,485.2 A1.6,1.6 0 1 0 653.8,487.4"/><path d="M654.8,490.3 A1.6,1.6 0 1 0 654.8,492.5"/><path d="M655.8,495.4 A1.6,1.6 0 1 0 655.8,497.6"/><path d="M656.8,500.5 A1.6,1.6 0 1 0 656.8,502.7"/><path d="M657.8,505.6 A1.6,1.6 0 1 0 657.8,507.8"/><path d="M658.8,510.7 A1.6,1.6 0 1 0 658.8,512.9"/><path d="M659.8,515.8 A1.6,1.6 0 1 0 659.8,518.0"/><path d="M660.8,520.9 A1.6,1.6 0 1 0 660.8,523.1"/><path d="M661.8,526.0 A1.6,1.6 0 1 0 661.8,528.2"/><path d="M662.8,531.1 A1.6,1.6 0 1 0 662.8,533.3"/><path d="M663.8,536.2 A1.6,1.6 0 1 0 663.8,538.4"/><path d="M664.8,541.3 A1.6,1.6 0 1 0 664.8,543.5"/><path d="M665.8,546.4 A1.6,1.6 0 1 0 665.8,548.6"/><path d="M666.8,551.5 A1.6,1.6 0 1 0 666.8,553.7"/><path d="M667.8,556.6 A1.6,1.6 0 1 0 667.8,558.8"/><path d="M668.8,561.7 A1.6,1.6 0 1 0 668.8,563.9"/><path d="M669.8,566.8 A1.6,1.6 0 1 0 669.8,569.0"/><path d="M670.8,571.9 A1.6,1.6 0 1 0 670.8,574.1"/><path d="M671.8,577.0 A1.6,1.6 0 1 0 671.8,579.2"/><path d="M672.8,582.1 A1.6,1.6 0 1 0 672.8,584.3"/><path d="M673.8,587.2 A1.6,1.6 0 1 0 673.8,589.4"/><path d="M674.8,592.3 A1.6,1.6 0 1 0 674.8,594.5"/><path d="M675.8,597.4 A1.6,1.6 0 1 0 675.8,599.6"/><path d="M676.8,602.5 A1.6,1.6 0 1 0 676.8,604.7"/><path d="M658.9,482.7 A1.6,1.6 0 1 0 658.9,484.9"/><path d="M659.9,487.8 A1.6,1.6 0 1 0 659.9,490.0"/><path d="M660.9,492.9 A1.6,1.6 0 1 0 660.9,495.1"/><path d="M661.9,498.0 A1.6,1.6 0 1 0 661.9,500.2"/><path d="M662.9,503.1 A1.6,1.6 0 1 0 662.9,505.3"/><path d="M663.9,508.2 A1.6,1.6 0 1 0 663.9,510.4"/><path d="M664.9,513.3 A1.6,1.6 0 1 0 664.9,515.5"/><path d="M665.9,518.4 A1.6,1.6 0 1 0 665.9,520.6"/><path d="M666.9,523.5 A1.6,1.6 0 1 0 666.9,525.7"/><path d="M667.9,528.6 A1.6,1.6 0 1 0 667.9,530.8"/><path d="M668.9,533.7 A1.6,1.6 0 1 0 668.9,535.9"/><path d="M669.9,538.8 A1.6,1.6 0 1 0 669.9,541.0"/><path d="M670.9,543.9 A1.6,1.6 0 1 0 670.9,546.1"/><path d="M671.9,549.0 A1.6,1.6 0 1 0 671.9,551.2"/><path d="M672.9,554.1 A1.6,1.6 0 1 0 672.9,556.3"/><path d="M673.9,559.2 A1.6,1.6 0 1 0 673.9,561.4"/><path d="M674.9,564.3 A1.6,1.6 0 1 0 674.9,566.5"/><path d="M675.9,569.4 A1.6,1.6 0 1 0 675.9,571.6"/><path d="M676.9,574.5 A1.6,1.6 0 1 0 676.9,576.7"/><path d="M677.9,579.6 A1.6,1.6 0 1 0 677.9,581.8"/><path d="M678.9,584.7 A1.6,1.6 0 1 0 678.9,586.9"/><path d="M679.9,589.8 A1.6,1.6 0 1 0 679.9,592.0"/><path d="M680.9,594.9 A1.6,1.6 0 1 0 680.9,597.1"/><path d="M681.9,600.0 A1.6,1.6 0 1 0 681.9,602.2"/><path d="M664.0,480.2 A1.6,1.6 0 1 0 664.0,482.4"/><path d="M665.0,485.3 A1.6,1.6 0 1 0 665.0,487.5"/><path d="M666.0,490.4 A1.6,1.6 0 1 0 666.0,492.6"/><path d="M667.0,495.5 A1.6,1.6 0 1 0 667.0,497.7"/><path d="M668.0,500.6 A1.6,1.6 0 1 0 668.0,502.8"/><path d="M669.0,505.7 A1.6,1.6 0 1 0 669.0,507.9"/><path d="M670.0,510.8 A1.6,1.6 0 1 0 670.0,513.0"/><path d="M671.0,515.9 A1.6,1.6 0 1 0 671.0,518.1"/><path d="M672.0,521.0 A1.6,1.6 0 1 0 672.0,523.2"/><path d="M673.0,526.1 A1.6,1.6 0 1 0 673.0,528.3"/><path d="M674.0,531.2 A1.6,1.6 0 1 0 674.0,533.4"/><path d="M675.0,536.3 A1.6,1.6 0 1 0 675.0,538.5"/><path d="M676.0,541.4 A1.6,1.6 0 1 0 676.0,543.6"/><path d="M677.0,546.5 A1.6,1.6 0 1 0 677.0,548.7"/><path d="M678.0,551.6 A1.6,1.6 0 1 0 678.0,553.8"/><path d="M679.0,556.7 A1.6,1.6 0 1 0 679.0,558.9"/><path d="M680.0,561.8 A1.6,1.6 0 1 0 680.0,564.0"/><path d="M681.0,566.9 A1.6,1.6 0 1 0 681.0,569.1"/><path d="M682.0,572.0 A1.6,1.6 0 1 0 682.0,574.2"/><path d="M683.0,577.1 A1.6,1.6 0 1 0 683.0,579.3"/><path d="M684.0,582.2 A1.6,1.6 0 1 0 684.0,584.4"/><path d="M685.0,587.3 A1.6,1.6 0 1 0 685.0,589.5"/><path d="M686.0,592.4 A1.6,1.6 0 1 0 686.0,594.6"/><path d="M687.0,597.5 A1.6,1.6 0 1 0 687.0,599.7"/><path d="M669.1,477.7 A1.6,1.6 0 1 0 669.1,479.9"/><path d="M670.1,482.8 A1.6,1.6 0 1 0 670.1,485.0"/><path d="M671.1,487.9 A1.6,1.6 0 1 0 671.1,490.1"/><path d="M672.1,493.0 A1.6,1.6 0 1 0 672.1,495.2"/><path d="M673.1,498.1 A1.6,1.6 0 1 0 673.1,500.3"/><path d="M674.1,503.2 A1.6,1.6 0 1 0 674.1,505.4"/><path d="M675.1,508.3 A1.6,1.6 0 1 0 675.1,510.5"/><path d="M676.1,513.4 A1.6,1.6 0 1 0 676.1,515.6"/><path d="M677.1,518.5 A1.6,1.6 0 1 0 677.1,520.7"/><path d="M678.1,523.6 A1.6,1.6 0 1 0 678.1,525.8"/><path d="M679.1,528.7 A1.6,1.6 0 1 0 679.1,530.9"/><path d="M680.1,533.8 A1.6,1.6 0 1 0 680.1,536.0"/><path d="M681.1,538.9 A1.6,1.6 0 1 0 681.1,541.1"/><path d="M682.1,544.0 A1.6,1.6 0 1 0 682.1,546.2"/><path d="M683.1,549.1 A1.6,1.6 0 1 0 683.1,551.3"/><path d="M684.1,554.2 A1.6,1.6 0 1 0 684.1,556.4"/><path d="M685.1,559.3 A1.6,1.6 0 1 0 685.1,561.5"/><path d="M686.1,564.4 A1.6,1.6 0 1 0 686.1,566.6"/><path d="M687.1,569.5 A1.6,1.6 0 1 0 687.1,571.7"/><path d="M688.1,574.6 A1.6,1.6 0 1 0 688.1,576.8"/><path d="M689.1,579.7 A1.6,1.6 0 1 0 689.1,581.9"/><path d="M690.1,584.8 A1.6,1.6 0 1 0 690.1,587.0"/><path d="M691.1,589.9 A1.6,1.6 0 1 0 691.1,592.1"/><path d="M692.1,595.0 A1.6,1.6 0 1 0 692.1,597.2"/><path d="M674.2,475.2 A1.6,1.6 0 1 0 674.2,477.4"/><path d="M675.2,480.3 A1.6,1.6 0 1 0 675.2,482.5"/><path d="M676.2,485.4 A1.6,1.6 0 1 0 676.2,487.6"/><path d="M677.2,490.5 A1.6,1.6 0 1 0 677.2,492.7"/><path d="M678.2,495.6 A1.6,1.6 0 1 0 678.2,497.8"/><path d="M679.2,500.7 A1.6,1.6 0 1 0 679.2,502.9"/><path d="M680.2,505.8 A1.6,1.6 0 1 0 680.2,508.0"/><path d="M681.2,510.9 A1.6,1.6 0 1 0 681.2,513.1"/><path d="M682.2,516.0 A1.6,1.6 0 1 0 682.2,518.2"/><path d="M683.2,521.1 A1.6,1.6 0 1 0 683.2,523.3"/><path d="M684.2,526.2 A1.6,1.6 0 1 0 684.2,528.4"/><path d="M685.2,531.3 A1.6,1.6 0 1 0 685.2,533.5"/><path d="M686.2,536.4 A1.6,1.6 0 1 0 686.2,538.6"/><path d="M687.2,541.5 A1.6,1.6 0 1 0 687.2,543.7"/><path d="M688.2,546.6 A1.6,1.6 0 1 0 688.2,548.8"/><path d="M689.2,551.7 A1.6,1.6 0 1 0 689.2,553.9"/><path d="M690.2,556.8 A1.6,1.6 0 1 0 690.2,559.0"/><path d="M691.2,561.9 A1.6,1.6 0 1 0 691.2,564.1"/><path d="M692.2,567.0 A1.6,1.6 0 1 0 692.2,569.2"/><path d="M693.2,572.1 A1.6,1.6 0 1 0 693.2,574.3"/><path d="M694.2,577.2 A1.6,1.6 0 1 0 694.2,579.4"/><path d="M695.2,582.3 A1.6,1.6 0 1 0 695.2,584.5"/><path d="M696.2,587.4 A1.6,1.6 0 1 0 696.2,589.6"/><path d="M697.2,592.5 A1.6,1.6 0 1 0 697.2,594.7"/><path d="M679.3,472.7 A1.6,1.6 0 1 0 679.3,474.9"/><path d="M680.3,477.8 A1.6,1.6 0 1 0 680.3,480.0"/><path d="M681.3,482.9 A1.6,1.6 0 1 0 681.3,485.1"/><path d="M682.3,488.0 A1.6,1.6 0 1 0 682.3,490.2"/><path d="M683.3,493.1 A1.6,1.6 0 1 0 683.3,495.3"/><path d="M684.3,498.2 A1.6,1.6 0 1 0 684.3,500.4"/><path d="M685.3,503.3 A1.6,1.6 0 1 0 685.3,505.5"/><path d="M686.3,508.4 A1.6,1.6 0 1 0 686.3,510.6"/><path d="M687.3,513.5 A1.6,1.6 0 1 0 687.3,515.7"/><path d="M688.3,518.6 A1.6,1.6 0 1 0 688.3,520.8"/><path d="M689.3,523.7 A1.6,1.6 0 1 0 689.3,525.9"/><path d="M690.3,528.8 A1.6,1.6 0 1 0 690.3,531.0"/><path d="M691.3,533.9 A1.6,1.6 0 1 0 691.3,536.1"/><path d="M692.3,539.0 A1.6,1.6 0 1 0 692.3,541.2"/><path d="M693.3,544.1 A1.6,1.6 0 1 0 693.3,546.3"/><path d="M694.3,549.2 A1.6,1.6 0 1 0 694.3,551.4"/><path d="M695.3,554.3 A1.6,1.6 0 1 0 695.3,556.5"/><path d="M696.3,559.4 A1.6,1.6 0 1 0 696.3,561.6"/><path d="M697.3,564.5 A1.6,1.6 0 1 0 697.3,566.7"/><path d="M698.3,569.6 A1.6,1.6 0 1 0 698.3,571.8"/><path d="M699.3,574.7 A1.6,1.6 0 1 0 699.3,576.9"/><path d="M700.3,579.8 A1.6,1.6 0 1 0 700.3,582.0"/><path d="M701.3,584.9 A1.6,1.6 0 1 0 701.3,587.1"/><path d="M702.3,590.0 A1.6,1.6 0 1 0 702.3,592.2"/><path d="M684.4,470.2 A1.6,1.6 0 1 0 684.4,472.4"/><path d="M685.4,475.3 A1.6,1.6 0 1 0 685.4,477.5"/><path d="M686.4,480.4 A1.6,1.6 0 1 0 686.4,482.6"/><path d="M687.4,485.5 A1.6,1.6 0 1 0 687.4,487.7"/><path d="M688.4,490.6 A1.6,1.6 0 1 0 688.4,492.8"/><path d="M689.4,495.7 A1.6,1.6 0 1 0 689.4,497.9"/><path d="M690.4,500.8 A1.6,1.6 0 1 0 690.4,503.0"/><path d="M691.4,505.9 A1.6,1.6 0 1 0 691.4,508.1"/><path d="M692.4,511.0 A1.6,1.6 0 1 0 692.4,513.2"/><path d="M693.4,516.1 A1.6,1.6 0 1 0 693.4,518.3"/><path d="M694.4,521.2 A1.6,1.6 0 1 0 694.4,523.4"/><path d="M695.4,526.3 A1.6,1.6 0 1 0 695.4,528.5"/><path d="M696.4,531.4 A1.6,1.6 0 1 0 696.4,533.6"/><path d="M697.4,536.5 A1.6,1.6 0 1 0 697.4,538.7"/><path d="M698.4,541.6 A1.6,1.6 0 1 0 698.4,543.8"/><path d="M699.4,546.7 A1.6,1.6 0 1 0 699.4,548.9"/><path d="M700.4,551.8 A1.6,1.6 0 1 0 700.4,554.0"/><path d="M701.4,556.9 A1.6,1.6 0 1 0 701.4,559.1"/><path d="M702.4,562.0 A1.6,1.6 0 1 0 702.4,564.2"/><path d="M703.4,567.1 A1.6,1.6 0 1 0 703.4,569.3"/><path d="M704.4,572.2 A1.6,1.6 0 1 0 704.4,574.4"/><path d="M705.4,577.3 A1.6,1.6 0 1 0 705.4,579.5"/><path d="M706.4,582.4 A1.6,1.6 0 1 0 706.4,584.6"/><path d="M707.4,587.5 A1.6,1.6 0 1 0 707.4,589.7"/><path d="M689.5,467.7 A1.6,1.6 0 1 0 689.5,469.9"/><path d="M690.5,472.8 A1.6,1.6 0 1 0 690.5,475.0"/><path d="M691.5,477.9 A1.6,1.6 0 1 0 691.5,480.1"/><path d="M692.5,483.0 A1.6,1.6 0 1 0 692.5,485.2"/><path d="M693.5,488.1 A1.6,1.6 0 1 0 693.5,490.3"/><path d="M694.5,493.2 A1.6,1.6 0 1 0 694.5,495.4"/><path d="M695.5,498.3 A1.6,1.6 0 1 0 695.5,500.5"/><path d="M696.5,503.4 A1.6,1.6 0 1 0 696.5,505.6"/><path d="M697.5,508.5 A1.6,1.6 0 1 0 697.5,510.7"/><path d="M698.5,513.6 A1.6,1.6 0 1 0 698.5,515.8"/><path d="M699.5,518.7 A1.6,1.6 0 1 0 699.5,520.9"/><path d="M700.5,523.8 A1.6,1.6 0 1 0 700.5,526.0"/><path d="M701.5,528.9 A1.6,1.6 0 1 0 701.5,531.1"/><path d="M702.5,534.0 A1.6,1.6 0 1 0 702.5,536.2"/><path d="M703.5,539.1 A1.6,1.6 0 1 0 703.5,541.3"/><path d="M704.5,544.2 A1.6,1.6 0 1 0 704.5,546.4"/><path d="M705.5,549.3 A1.6,1.6 0 1 0 705.5,551.5"/><path d="M706.5,554.4 A1.6,1.6 0 1 0 706.5,556.6"/><path d="M707.5,559.5 A1.6,1.6 0 1 0 707.5,561.7"/><path d="M708.5,564.6 A1.6,1.6 0 1 0 708.5,566.8"/><path d="M709.5,569.7 A1.6,1.6 0 1 0 709.5,571.9"/><path d="M710.5,574.8 A1.6,1.6 0 1 0 710.5,577.0"/><path d="M711.5,579.9 A1.6,1.6 0 1 0 711.5,582.1"/><path d="M712.5,585.0 A1.6,1.6 0 1 0 712.5,587.2"/><path d="M694.6,465.2 A1.6,1.6 0 1 0 694.6,467.4"/><path d="M695.6,470.3 A1.6,1.6 0 1 0 695.6,472.5"/><path d="M696.6,475.4 A1.6,1.6 0 1 0 696.6,477.6"/><path d="M697.6,480.5 A1.6,1.6 0 1 0 697.6,482.7"/><path d="M698.6,485.6 A1.6,1.6 0 1 0 698.6,487.8"/><path d="M699.6,490.7 A1.6,1.6 0 1 0 699.6,492.9"/><path d="M700.6,495.8 A1.6,1.6 0 1 0 700.6,498.0"/><path d="M701.6,500.9 A1.6,1.6 0 1 0 701.6,503.1"/><path d="M702.6,506.0 A1.6,1.6 0 1 0 702.6,508.2"/><path d="M703.6,511.1 A1.6,1.6 0 1 0 703.6,513.3"/><path d="M704.6,516.2 A1.6,1.6 0 1 0 704.6,518.4"/><path d="M705.6,521.3 A1.6,1.6 0 1 0 705.6,523.5"/><path d="M706.6,526.4 A1.6,1.6 0 1 0 706.6,528.6"/><path d="M707.6,531.5 A1.6,1.6 0 1 0 707.6,533.7"/><path d="M708.6,536.6 A1.6,1.6 0 1 0 708.6,538.8"/><path d="M709.6,541.7 A1.6,1.6 0 1 0 709.6,543.9"/><path d="M710.6,546.8 A1.6,1.6 0 1 0 710.6,549.0"/><path d="M711.6,551.9 A1.6,1.6 0 1 0 711.6,554.1"/><path d="M712.6,557.0 A1.6,1.6 0 1 0 712.6,559.2"/><path d="M713.6,562.1 A1.6,1.6 0 1 0 713.6,564.3"/><path d="M714.6,567.2 A1.6,1.6 0 1 0 714.6,569.4"/><path d="M715.6,572.3 A1.6,1.6 0 1 0 715.6,574.5"/><path d="M716.6,577.4 A1.6,1.6 0 1 0 716.6,579.6"/><path d="M717.6,582.5 A1.6,1.6 0 1 0 717.6,584.7"/><path d="M699.7,462.7 A1.6,1.6 0 1 0 699.7,464.9"/><path d="M700.7,467.8 A1.6,1.6 0 1 0 700.7,470.0"/><path d="M701.7,472.9 A1.6,1.6 0 1 0 701.7,475.1"/><path d="M702.7,478.0 A1.6,1.6 0 1 0 702.7,480.2"/><path d="M703.7,483.1 A1.6,1.6 0 1 0 703.7,485.3"/><path d="M704.7,488.2 A1.6,1.6 0 1 0 704.7,490.4"/><path d="M705.7,493.3 A1.6,1.6 0 1 0 705.7,495.5"/><path d="M706.7,498.4 A1.6,1.6 0 1 0 706.7,500.6"/><path d="M707.7,503.5 A1.6,1.6 0 1 0 707.7,505.7"/><path d="M708.7,508.6 A1.6,1.6 0 1 0 708.7,510.8"/><path d="M709.7,513.7 A1.6,1.6 0 1 0 709.7,515.9"/><path d="M710.7,518.8 A1.6,1.6 0 1 0 710.7,521.0"/><path d="M711.7,523.9 A1.6,1.6 0 1 0 711.7,526.1"/><path d="M712.7,529.0 A1.6,1.6 0 1 0 712.7,531.2"/><path d="M713.7,534.1 A1.6,1.6 0 1 0 713.7,536.3"/><path d="M714.7,539.2 A1.6,1.6 0 1 0 714.7,541.4"/><path d="M715.7,544.3 A1.6,1.6 0 1 0 715.7,546.5"/><path d="M716.7,549.4 A1.6,1.6 0 1 0 716.7,551.6"/><path d="M717.7,554.5 A1.6,1.6 0 1 0 717.7,556.7"/><path d="M718.7,559.6 A1.6,1.6 0 1 0 718.7,561.8"/><path d="M719.7,564.7 A1.6,1.6 0 1 0 719.7,566.9"/><path d="M720.7,569.8 A1.6,1.6 0 1 0 720.7,572.0"/><path d="M721.7,574.9 A1.6,1.6 0 1 0 721.7,577.1"/><path d="M722.7,580.0 A1.6,1.6 0 1 0 722.7,582.2"/><path d="M704.8,460.2 A1.6,1.6 0 1 0 704.8,462.4"/><path d="M705.8,465.3 A1.6,1.6 0 1 0 705.8,467.5"/><path d="M706.8,470.4 A1.6,1.6 0 1 0 706.8,472.6"/><path d="M707.8,475.5 A1.6,1.6 0 1 0 707.8,477.7"/><path d="M708.8,480.6 A1.6,1.6 0 1 0 708.8,482.8"/><path d="M709.8,485.7 A1.6,1.6 0 1 0 709.8,487.9"/><path d="M710.8,490.8 A1.6,1.6 0 1 0 710.8,493.0"/><path d="M711.8,495.9 A1.6,1.6 0 1 0 711.8,498.1"/><path d="M712.8,501.0 A1.6,1.6 0 1 0 712.8,503.2"/><path d="M713.8,506.1 A1.6,1.6 0 1 0 713.8,508.3"/><path d="M714.8,511.2 A1.6,1.6 0 1 0 714.8,513.4"/><path d="M715.8,516.3 A1.6,1.6 0 1 0 715.8,518.5"/><path d="M716.8,521.4 A1.6,1.6 0 1 0 716.8,523.6"/><path d="M717.8,526.5 A1.6,1.6 0 1 0 717.8,528.7"/><path d="M718.8,531.6 A1.6,1.6 0 1 0 718.8,533.8"/><path d="M719.8,536.7 A1.6,1.6 0 1 0 719.8,538.9"/><path d="M720.8,541.8 A1.6,1.6 0 1 0 720.8,544.0"/><path d="M721.8,546.9 A1.6,1.6 0 1 0 721.8,549.1"/><path d="M722.8,552.0 A1.6,1.6 0 1 0 722.8,554.2"/><path d="M723.8,557.1 A1.6,1.6 0 1 0 723.8,559.3"/><path d="M724.8,562.2 A1.6,1.6 0 1 0 724.8,564.4"/><path d="M725.8,567.3 A1.6,1.6 0 1 0 725.8,569.5"/><path d="M726.8,572.4 A1.6,1.6 0 1 0 726.8,574.6"/><path d="M727.8,577.5 A1.6,1.6 0 1 0 727.8,579.7"/><path d="M709.9,457.7 A1.6,1.6 0 1 0 709.9,459.9"/><path d="M710.9,462.8 A1.6,1.6 0 1 0 710.9,465.0"/><path d="M711.9,467.9 A1.6,1.6 0 1 0 711.9,470.1"/><path d="M712.9,473.0 A1.6,1.6 0 1 0 712.9,475.2"/><path d="M713.9,478.1 A1.6,1.6 0 1 0 713.9,480.3"/><path d="M714.9,483.2 A1.6,1.6 0 1 0 714.9,485.4"/><path d="M715.9,488.3 A1.6,1.6 0 1 0 715.9,490.5"/><path d="M716.9,493.4 A1.6,1.6 0 1 0 716.9,495.6"/><path d="M717.9,498.5 A1.6,1.6 0 1 0 717.9,500.7"/><path d="M718.9,503.6 A1.6,1.6 0 1 0 718.9,505.8"/><path d="M719.9,508.7 A1.6,1.6 0 1 0 719.9,510.9"/><path d="M720.9,513.8 A1.6,1.6 0 1 0 720.9,516.0"/><path d="M721.9,518.9 A1.6,1.6 0 1 0 721.9,521.1"/><path d="M722.9,524.0 A1.6,1.6 0 1 0 722.9,526.2"/><path d="M723.9,529.1 A1.6,1.6 0 1 0 723.9,531.3"/><path d="M724.9,534.2 A1.6,1.6 0 1 0 724.9,536.4"/><path d="M725.9,539.3 A1.6,1.6 0 1 0 725.9,541.5"/><path d="M726.9,544.4 A1.6,1.6 0 1 0 726.9,546.6"/><path d="M727.9,549.5 A1.6,1.6 0 1 0 727.9,551.7"/><path d="M728.9,554.6 A1.6,1.6 0 1 0 728.9,556.8"/><path d="M729.9,559.7 A1.6,1.6 0 1 0 729.9,561.9"/><path d="M730.9,564.8 A1.6,1.6 0 1 0 730.9,567.0"/><path d="M731.9,569.9 A1.6,1.6 0 1 0 731.9,572.1"/><path d="M732.9,575.0 A1.6,1.6 0 1 0 732.9,577.2"/><path d="M715.0,455.2 A1.6,1.6 0 1 0 715.0,457.4"/><path d="M716.0,460.3 A1.6,1.6 0 1 0 716.0,462.5"/><path d="M717.0,465.4 A1.6,1.6 0 1 0 717.0,467.6"/><path d="M718.0,470.5 A1.6,1.6 0 1 0 718.0,472.7"/><path d="M719.0,475.6 A1.6,1.6 0 1 0 719.0,477.8"/><path d="M720.0,480.7 A1.6,1.6 0 1 0 720.0,482.9"/><path d="M721.0,485.8 A1.6,1.6 0 1 0 721.0,488.0"/><path d="M722.0,490.9 A1.6,1.6 0 1 0 722.0,493.1"/><path d="M723.0,496.0 A1.6,1.6 0 1 0 723.0,498.2"/><path d="M724.0,501.1 A1.6,1.6 0 1 0 724.0,503.3"/><path d="M725.0,506.2 A1.6,1.6 0 1 0 725.0,508.4"/><path d="M726.0,511.3 A1.6,1.6 0 1 0 726.0,513.5"/><path d="M727.0,516.4 A1.6,1.6 0 1 0 727.0,518.6"/><path d="M728.0,521.5 A1.6,1.6 0 1 0 728.0,523.7"/><path d="M729.0,526.6 A1.6,1.6 0 1 0 729.0,528.8"/><path d="M730.0,531.7 A1.6,1.6 0 1 0 730.0,533.9"/><path d="M731.0,536.8 A1.6,1.6 0 1 0 731.0,539.0"/><path d="M732.0,541.9 A1.6,1.6 0 1 0 732.0,544.1"/><path d="M733.0,547.0 A1.6,1.6 0 1 0 733.0,549.2"/><path d="M734.0,552.1 A1.6,1.6 0 1 0 734.0,554.3"/><path d="M735.0,557.2 A1.6,1.6 0 1 0 735.0,559.4"/><path d="M736.0,562.3 A1.6,1.6 0 1 0 736.0,564.5"/><path d="M737.0,567.4 A1.6,1.6 0 1 0 737.0,569.6"/><path d="M738.0,572.5 A1.6,1.6 0 1 0 738.0,574.7"/><path d="M720.1,452.7 A1.6,1.6 0 1 0 720.1,454.9"/><path d="M721.1,457.8 A1.6,1.6 0 1 0 721.1,460.0"/><path d="M722.1,462.9 A1.6,1.6 0 1 0 722.1,465.1"/><path d="M723.1,468.0 A1.6,1.6 0 1 0 723.1,470.2"/><path d="M724.1,473.1 A1.6,1.6 0 1 0 724.1,475.3"/><path d="M725.1,478.2 A1.6,1.6 0 1 0 725.1,480.4"/><path d="M726.1,483.3 A1.6,1.6 0 1 0 726.1,485.5"/><path d="M727.1,488.4 A1.6,1.6 0 1 0 727.1,490.6"/><path d="M728.1,493.5 A1.6,1.6 0 1 0 728.1,495.7"/><path d="M729.1,498.6 A1.6,1.6 0 1 0 729.1,500.8"/><path d="M730.1,503.7 A1.6,1.6 0 1 0 730.1,505.9"/><path d="M731.1,508.8 A1.6,1.6 0 1 0 731.1,511.0"/><path d="M732.1,513.9 A1.6,1.6 0 1 0 732.1,516.1"/><path d="M733.1,519.0 A1.6,1.6 0 1 0 733.1,521.2"/><path d="M734.1,524.1 A1.6,1.6 0 1 0 734.1,526.3"/><path d="M735.1,529.2 A1.6,1.6 0 1 0 735.1,531.4"/><path d="M736.1,534.3 A1.6,1.6 0 1 0 736.1,536.5"/><path d="M737.1,539.4 A1.6,1.6 0 1 0 737.1,541.6"/><path d="M738.1,544.5 A1.6,1.6 0 1 0 738.1,546.7"/><path d="M739.1,549.6 A1.6,1.6 0 1 0 739.1,551.8"/><path d="M740.1,554.7 A1.6,1.6 0 1 0 740.1,556.9"/><path d="M741.1,559.8 A1.6,1.6 0 1 0 741.1,562.0"/><path d="M742.1,564.9 A1.6,1.6 0 1 0 742.1,567.1"/><path d="M743.1,570.0 A1.6,1.6 0 1 0 743.1,572.2"/><path d="M725.2,450.2 A1.6,1.6 0 1 0 725.2,452.4"/><path d="M726.2,455.3 A1.6,1.6 0 1 0 726.2,457.5"/><path d="M727.2,460.4 A1.6,1.6 0 1 0 727.2,462.6"/><path d="M728.2,465.5 A1.6,1.6 0 1 0 728.2,467.7"/><path d="M729.2,470.6 A1.6,1.6 0 1 0 729.2,472.8"/><path d="M730.2,475.7 A1.6,1.6 0 1 0 730.2,477.9"/><path d="M731.2,480.8 A1.6,1.6 0 1 0 731.2,483.0"/><path d="M732.2,485.9 A1.6,1.6 0 1 0 732.2,488.1"/><path d="M733.2,491.0 A1.6,1.6 0 1 0 733.2,493.2"/><path d="M734.2,496.1 A1.6,1.6 0 1 0 734.2,498.3"/><path d="M735.2,501.2 A1.6,1.6 0 1 0 735.2,503.4"/><path d="M736.2,506.3 A1.6,1.6 0 1 0 736.2,508.5"/><path d="M737.2,511.4 A1.6,1.6 0 1 0 737.2,513.6"/><path d="M738.2,516.5 A1.6,1.6 0 1 0 738.2,518.7"/><path d="M739.2,521.6 A1.6,1.6 0 1 0 739.2,523.8"/><path d="M740.2,526.7 A1.6,1.6 0 1 0 740.2,528.9"/><path d="M741.2,531.8 A1.6,1.6 0 1 0 741.2,534.0"/><path d="M742.2,536.9 A1.6,1.6 0 1 0 742.2,539.1"/><path d="M743.2,542.0 A1.6,1.6 0 1 0 743.2,544.2"/><path d="M744.2,547.1 A1.6,1.6 0 1 0 744.2,549.3"/><path d="M745.2,552.2 A1.6,1.6 0 1 0 745.2,554.4"/><path d="M746.2,557.3 A1.6,1.6 0 1 0 746.2,559.5"/><path d="M747.2,562.4 A1.6,1.6 0 1 0 747.2,564.6"/><path d="M748.2,567.5 A1.6,1.6 0 1 0 748.2,569.7"/><path d="M730.3,447.7 A1.6,1.6 0 1 0 730.3,449.9"/><path d="M731.3,452.8 A1.6,1.6 0 1 0 731.3,455.0"/><path d="M732.3,457.9 A1.6,1.6 0 1 0 732.3,460.1"/><path d="M733.3,463.0 A1.6,1.6 0 1 0 733.3,465.2"/><path d="M734.3,468.1 A1.6,1.6 0 1 0 734.3,470.3"/><path d="M735.3,473.2 A1.6,1.6 0 1 0 735.3,475.4"/><path d="M736.3,478.3 A1.6,1.6 0 1 0 736.3,480.5"/><path d="M737.3,483.4 A1.6,1.6 0 1 0 737.3,485.6"/><path d="M738.3,488.5 A1.6,1.6 0 1 0 738.3,490.7"/><path d="M739.3,493.6 A1.6,1.6 0 1 0 739.3,495.8"/><path d="M740.3,498.7 A1.6,1.6 0 1 0 740.3,500.9"/><path d="M741.3,503.8 A1.6,1.6 0 1 0 741.3,506.0"/><path d="M742.3,508.9 A1.6,1.6 0 1 0 742.3,511.1"/><path d="M743.3,514.0 A1.6,1.6 0 1 0 743.3,516.2"/><path d="M744.3,519.1 A1.6,1.6 0 1 0 744.3,521.3"/><path d="M745.3,524.2 A1.6,1.6 0 1 0 745.3,526.4"/><path d="M746.3,529.3 A1.6,1.6 0 1 0 746.3,531.5"/><path d="M747.3,534.4 A1.6,1.6 0 1 0 747.3,536.6"/><path d="M748.3,539.5 A1.6,1.6 0 1 0 748.3,541.7"/><path d="M749.3,544.6 A1.6,1.6 0 1 0 749.3,546.8"/><path d="M750.3,549.7 A1.6,1.6 0 1 0 750.3,551.9"/><path d="M751.3,554.8 A1.6,1.6 0 1 0 751.3,557.0"/><path d="M752.3,559.9 A1.6,1.6 0 1 0 752.3,562.1"/><path d="M753.3,565.0 A1.6,1.6 0 1 0 753.3,567.2"/><path d="M735.4,445.2 A1.6,1.6 0 1 0 735.4,447.4"/><path d="M736.4,450.3 A1.6,1.6 0 1 0 736.4,452.5"/><path d="M737.4,455.4 A1.6,1.6 0 1 0 737.4,457.6"/><path d="M738.4,460.5 A1.6,1.6 0 1 0 738.4,462.7"/><path d="M739.4,465.6 A1.6,1.6 0 1 0 739.4,467.8"/><path d="M740.4,470.7 A1.6,1.6 0 1 0 740.4,472.9"/><path d="M741.4,475.8 A1.6,1.6 0 1 0 741.4,478.0"/><path d="M742.4,480.9 A1.6,1.6 0 1 0 742.4,483.1"/><path d="M743.4,486.0 A1.6,1.6 0 1 0 743.4,488.2"/><path d="M744.4,491.1 A1.6,1.6 0 1 0 744.4,493.3"/><path d="M745.4,496.2 A1.6,1.6 0 1 0 745.4,498.4"/><path d="M746.4,501.3 A1.6,1.6 0 1 0 746.4,503.5"/><path d="M747.4,506.4 A1.6,1.6 0 1 0 747.4,508.6"/><path d="M748.4,511.5 A1.6,1.6 0 1 0 748.4,513.7"/><path d="M749.4,516.6 A1.6,1.6 0 1 0 749.4,518.8"/><path d="M750.4,521.7 A1.6,1.6 0 1 0 750.4,523.9"/><path d="M751.4,526.8 A1.6,1.6 0 1 0 751.4,529.0"/><path d="M752.4,531.9 A1.6,1.6 0 1 0 752.4,534.1"/><path d="M753.4,537.0 A1.6,1.6 0 1 0 753.4,539.2"/><path d="M754.4,542.1 A1.6,1.6 0 1 0 754.4,544.3"/><path d="M755.4,547.2 A1.6,1.6 0 1 0 755.4,549.4"/><path d="M756.4,552.3 A1.6,1.6 0 1 0 756.4,554.5"/><path d="M757.4,557.4 A1.6,1.6 0 1 0 757.4,559.6"/><path d="M758.4,562.5 A1.6,1.6 0 1 0 758.4,564.7"/></g>
<path d="M634.1,493.5 L725,520.7" stroke="#808080" stroke-width="1" stroke-dasharray="6,3"/>
<ellipse cx="632.5" cy="491.5" rx="2.2" ry="2.6" fill="#fff" stroke="#222" stroke-width="1"/>
<path d="M722,520.5 L731,523.5" stroke="#222" stroke-width="3" stroke-linecap="round"/><path d="M722.5,520.7 L729,522.8" stroke="#fff" stroke-width="1" stroke-dasharray="1,1"/>
<path d="M730,519.5 L735,521 L736,526 L732,528 L728.5,526 Z" fill="#bbb" stroke="#222" stroke-width="1"/>
<path d="M568,569.5 L594,579.5" stroke="#808080" stroke-width="1" stroke-dasharray="5,3"/>
<path d="M594,579.5 L602,583" stroke="#222" stroke-width="3" stroke-linecap="round"/><path d="M594.5,579.7 L600,582.2" stroke="#fff" stroke-width="1" stroke-dasharray="1,1"/>
<circle cx="603" cy="583.5" r="2.3" fill="#ccc" stroke="#222" stroke-width="1"/>
<path d="M362.3,588.6 L372.4,590.5 L375.2,581.3 L388,563 L391.6,553.8 C396,549 400,547 405,545 C412,542 420,540.5 426.5,540.6 L439.3,544.7 L446.6,542.8 L457.6,548.3 L461.3,555.7 L479.6,565.7 L484.2,572.1 L481.4,577.6 L457.6,592.3 L441.1,612.5 L434.5,620 Z" fill="#fff" stroke="#222" stroke-width="1"/>
<path d="M362.3,588 L434.5,620 M363,591 L433.5,622.8" fill="none" stroke="#222" stroke-width="0.85"/>
<path d="M361.5,587 L365.5,586.5 L366,590.5 L362.5,591.5 Z" fill="#fff" stroke="#222" stroke-width="0.9"/>
<circle cx="435" cy="621" r="1.8" fill="#222"/>
<path d="M421,610.6 L437.5,578.6 L446.6,575.8 L477.8,567.6 M424.6,605.1 L439.3,582.2 L444.8,581.3 L475,570 M444.8,581.3 L436,601 L424.6,605.1 M421,610.6 L440,612 M437.5,578.6 L444.8,581.3" fill="none" stroke="#222" stroke-width="0.8"/>
<path d="M430.1,553.8 L437.5,550.2 M441.1,559.3 L455.8,552 M446.6,542.8 L452,549 L441.1,559.3 M391.6,553.8 L393.5,559 L376,583.5 L375.2,589" fill="none" stroke="#222" stroke-width="0.8"/>
<g transform="translate(353.2,585.7) rotate(28)"><rect x="-5.5" y="-4.3" width="11" height="8.6" fill="#888" stroke="#222" stroke-width="1"/><ellipse cx="-5" cy="0" rx="1.5" ry="4.3" fill="none" stroke="#222" stroke-width="1"/><ellipse cx="-3" cy="0" rx="1.5" ry="4.3" fill="none" stroke="#222" stroke-width="1"/><ellipse cx="-1" cy="0" rx="1.5" ry="4.3" fill="none" stroke="#222" stroke-width="1"/><ellipse cx="1" cy="0" rx="1.5" ry="4.3" fill="none" stroke="#222" stroke-width="1"/><ellipse cx="3" cy="0" rx="1.5" ry="4.3" fill="none" stroke="#222" stroke-width="1"/><ellipse cx="5" cy="0" rx="1.5" ry="4.3" fill="none" stroke="#222" stroke-width="1"/><ellipse cx="5.5" cy="0" rx="2.2" ry="4.3" fill="#fff" stroke="#222" stroke-width="1.3"/><ellipse cx="5.5" cy="0" rx="1" ry="2.3" fill="#fff" stroke="#444" stroke-width="0.7"/></g>
<path d="M348,585.5 C345,587 341,586 340.5,583 C340.3,581 341.5,580 343,579.8" fill="none" stroke="#111" stroke-width="2.3" stroke-linecap="round"/>
<g transform="translate(445.5,630.8) rotate(40)"><rect x="-5.5" y="-4.3" width="11" height="8.6" fill="#888" stroke="#222" stroke-width="1"/><ellipse cx="-5" cy="0" rx="1.5" ry="4.3" fill="none" stroke="#222" stroke-width="1"/><ellipse cx="-3" cy="0" rx="1.5" ry="4.3" fill="none" stroke="#222" stroke-width="1"/><ellipse cx="-1" cy="0" rx="1.5" ry="4.3" fill="none" stroke="#222" stroke-width="1"/><ellipse cx="1" cy="0" rx="1.5" ry="4.3" fill="none" stroke="#222" stroke-width="1"/><ellipse cx="3" cy="0" rx="1.5" ry="4.3" fill="none" stroke="#222" stroke-width="1"/><ellipse cx="5" cy="0" rx="1.5" ry="4.3" fill="none" stroke="#222" stroke-width="1"/><ellipse cx="-5.5" cy="0" rx="2.2" ry="4.3" fill="#fff" stroke="#222" stroke-width="1.3"/><ellipse cx="-5.5" cy="0" rx="1" ry="2.3" fill="#fff" stroke="#444" stroke-width="0.7"/></g>
<path d="M448.3,635 C448.8,638.5 450.3,641.5 452.8,641.5 C454.8,641.5 454.8,639 454.3,637" fill="none" stroke="#111" stroke-width="2.3" stroke-linecap="round"/>
<path d="M382.5,529.5 L389,527.5 C392,529 393,531 392.5,534 L387,537.5 L382.5,536.5 Z" fill="#666" stroke="#222" stroke-width="1"/>
<path d="M384,530.5 L390,529" stroke="#ccc" stroke-width="0.8"/>
<path d="M386.5,504.5 L386.5,517.5" stroke="#222" stroke-width="2"/><path d="M386.5,506 L386.5,516.5" stroke="#fff" stroke-width="0.6" stroke-dasharray="1,1"/>
<ellipse cx="386.5" cy="503.5" rx="2.6" ry="1.8" fill="#fff" stroke="#222" stroke-width="1"/>
<path d="M386.5,518 L386.5,527 M386.5,539 L386.5,620" stroke="#808080" stroke-width="1" stroke-dasharray="6,3"/>
<path d="M431.6,355.5 L363.6,463.5 L363.2,487.5" fill="none" stroke="#222" stroke-width="8" stroke-linecap="butt" stroke-linejoin="round"/><path d="M431.6,355.5 L363.6,463.5 L363.2,487.5" fill="none" stroke="#fff" stroke-width="6" stroke-linecap="butt" stroke-linejoin="round"/><path d="M431.6,355.5 L363.6,463.5 L363.2,487.5" fill="none" stroke="#999" stroke-width="0.7" stroke-linejoin="round"/><ellipse cx="431.6" cy="355.5" rx="3.6" ry="3" fill="#fff" stroke="#222" stroke-width="1" transform="rotate(-30 431.6 355.5)"/><ellipse cx="363.2" cy="487.5" rx="3.6" ry="1.8" fill="#fff" stroke="#222" stroke-width="1"/>
<path d="M498.9,385.2 L430.3,493.6 L430.8,517.2" fill="none" stroke="#222" stroke-width="8" stroke-linecap="butt" stroke-linejoin="round"/><path d="M498.9,385.2 L430.3,493.6 L430.8,517.2" fill="none" stroke="#fff" stroke-width="6" stroke-linecap="butt" stroke-linejoin="round"/><path d="M498.9,385.2 L430.3,493.6 L430.8,517.2" fill="none" stroke="#999" stroke-width="0.7" stroke-linejoin="round"/><ellipse cx="498.9" cy="385.2" rx="3.6" ry="3" fill="#fff" stroke="#222" stroke-width="1" transform="rotate(-30 498.9 385.2)"/><ellipse cx="430.8" cy="517.2" rx="3.6" ry="1.8" fill="#fff" stroke="#222" stroke-width="1"/>
<path d="M367.3,411.5 C364,408.5 360,407.5 357.5,408 C354,409 352.5,412.5 353.5,415.5 C354.5,419.5 358,422.5 362.5,423.5 C366.5,424.3 369.5,422.5 371,419.5 C371.5,418 371.2,417 370.8,416.3" fill="none" stroke="#222" stroke-width="2.3" stroke-linecap="round"/>
<path d="M367.3,411.5 C364,408.5 360,407.5 357.5,408 C354,409 352.5,412.5 353.5,415.5 C354.5,419.5 358,422.5 362.5,423.5 C366.5,424.3 369.5,422.5 371,419.5 C371.5,418 371.2,417 370.8,416.3" fill="none" stroke="#fff" stroke-width="0.7"/>
<path d="M332,470 L341,473.5" stroke="#222" stroke-width="2.8" stroke-linecap="round"/><path d="M332.5,470.2 L339.5,472.8" stroke="#fff" stroke-width="0.8" stroke-dasharray="1,1"/>
<ellipse cx="331.5" cy="469.8" rx="2" ry="2.4" fill="#555" stroke="#222" stroke-width="1"/>
<path d="M452.5,513 L461,516.5" stroke="#222" stroke-width="2.6" stroke-linecap="round"/><path d="M453,513.2 L459,515.8" stroke="#fff" stroke-width="0.8" stroke-dasharray="1,1"/>
<ellipse cx="462" cy="517" rx="1.8" ry="2.2" fill="#ccc" stroke="#222" stroke-width="1"/>
<path d="M394.8,677.3 L411.5,686.2 M492,732.5 L625,806" stroke="#808080" stroke-width="1" stroke-dasharray="6,3" fill="none"/>
<path d="M411.5,686.2 L490,731.2" stroke="#333" stroke-width="4.4" stroke-linecap="round"/><path d="M411.5,686.2 L490,731.2" stroke="#fff" stroke-width="2.5" stroke-linecap="round"/><path d="M411.5,686.2 L490,731.2" stroke="#888" stroke-width="0.6"/><path d="M411.5,686.2 L417.6,689.7" stroke="#444" stroke-width="2.5" stroke-dasharray="1,1"/><path d="M483.9,727.7 L490.0,731.2" stroke="#444" stroke-width="2.5" stroke-dasharray="1,1"/>
<path d="M299.5,739.5 L323,751.4 M401.6,796.4 L538,872" stroke="#808080" stroke-width="1" stroke-dasharray="6,3" fill="none"/>
<path d="M323,751.4 L401.6,796.4" stroke="#333" stroke-width="4.4" stroke-linecap="round"/><path d="M323,751.4 L401.6,796.4" stroke="#fff" stroke-width="2.5" stroke-linecap="round"/><path d="M323,751.4 L401.6,796.4" stroke="#888" stroke-width="0.6"/><path d="M323.0,751.4 L329.1,754.9" stroke="#444" stroke-width="2.5" stroke-dasharray="1,1"/><path d="M395.5,792.9 L401.6,796.4" stroke="#444" stroke-width="2.5" stroke-dasharray="1,1"/>
<g transform="translate(535.3,755.5) scale(1.0) rotate(8)"><ellipse cx="-6.5" cy="-3.8" rx="16.3" ry="20.6" fill="#fff" stroke="#111" stroke-width="1.7"/><ellipse cx="-5.57" cy="-3.26" rx="16.20" ry="20.51" fill="none" stroke="#555" stroke-width="0.75"/><ellipse cx="-4.64" cy="-2.71" rx="16.10" ry="20.43" fill="none" stroke="#555" stroke-width="0.75"/><ellipse cx="-3.71" cy="-2.17" rx="16.00" ry="20.34" fill="none" stroke="#555" stroke-width="0.75"/><ellipse cx="-2.79" cy="-1.63" rx="15.90" ry="20.26" fill="none" stroke="#555" stroke-width="0.75"/><ellipse cx="-1.86" cy="-1.09" rx="15.80" ry="20.17" fill="none" stroke="#555" stroke-width="0.75"/><ellipse cx="-0.93" cy="-0.54" rx="15.70" ry="20.09" fill="none" stroke="#555" stroke-width="0.75"/><ellipse cx="0" cy="0" rx="15.6" ry="20" fill="#fff" stroke="#111" stroke-width="1.5"/><ellipse cx="-0.7" cy="0.4" rx="12.8" ry="17" fill="none" stroke="#444" stroke-width="1.8"/><ellipse cx="-1.3" cy="0.8" rx="10.3" ry="14.1" fill="#fff" stroke="#111" stroke-width="1.3"/><ellipse cx="-0.8" cy="0.8" rx="8.6" ry="12.5" fill="none" stroke="#555" stroke-width="0.7"/><path d="M-4,-3.5 L-3,-2 M-5,1.5 L-4,3" stroke="#444" stroke-width="0.7"/><circle cx="-4.3" cy="-0.5" r="1.4" fill="#111"/></g>
<g transform="translate(444.8,821.3) scale(0.9) rotate(8)"><ellipse cx="-6.5" cy="-3.8" rx="16.3" ry="20.6" fill="#fff" stroke="#111" stroke-width="1.7"/><ellipse cx="-5.57" cy="-3.26" rx="16.20" ry="20.51" fill="none" stroke="#555" stroke-width="0.75"/><ellipse cx="-4.64" cy="-2.71" rx="16.10" ry="20.43" fill="none" stroke="#555" stroke-width="0.75"/><ellipse cx="-3.71" cy="-2.17" rx="16.00" ry="20.34" fill="none" stroke="#555" stroke-width="0.75"/><ellipse cx="-2.79" cy="-1.63" rx="15.90" ry="20.26" fill="none" stroke="#555" stroke-width="0.75"/><ellipse cx="-1.86" cy="-1.09" rx="15.80" ry="20.17" fill="none" stroke="#555" stroke-width="0.75"/><ellipse cx="-0.93" cy="-0.54" rx="15.70" ry="20.09" fill="none" stroke="#555" stroke-width="0.75"/><ellipse cx="0" cy="0" rx="15.6" ry="20" fill="#fff" stroke="#111" stroke-width="1.5"/><ellipse cx="-0.7" cy="0.4" rx="12.8" ry="17" fill="none" stroke="#444" stroke-width="1.8"/><ellipse cx="-1.3" cy="0.8" rx="10.3" ry="14.1" fill="#fff" stroke="#111" stroke-width="1.3"/><ellipse cx="-0.8" cy="0.8" rx="8.6" ry="12.5" fill="none" stroke="#555" stroke-width="0.7"/><path d="M-4,-3.5 L-3,-2 M-5,1.5 L-4,3" stroke="#444" stroke-width="0.7"/><circle cx="-4.3" cy="-0.5" r="1.4" fill="#111"/></g>
<g transform="translate(573.7,776.1) scale(1.0) rotate(14)"><ellipse cx="0" cy="0" rx="13" ry="18" fill="#fff" stroke="#222" stroke-width="1.3"/><path d="M-12,-4 C-11,-10 -7,-16 -1,-17.5" fill="none" stroke="#666" stroke-width="1"/><rect x="-8" y="-3.5" width="5.5" height="18" rx="2.75" fill="#fff" stroke="#222" stroke-width="1.1"/><path d="M-5.5,-1.5 L-5.5,13" stroke="#444" stroke-width="0.6"/><rect x="3.3" y="-14.5" width="6.4" height="18" rx="3" fill="#fff" stroke="#222" stroke-width="1.1"/><rect x="4.8" y="-12.5" width="3.4" height="14" rx="1.7" fill="none" stroke="#444" stroke-width="0.7"/><path d="M-2.5,2.5 L-1.5,2 M1.8,0.5 L3.3,0" stroke="#222" stroke-width="0.9"/><ellipse cx="0" cy="1" rx="2.2" ry="3" fill="#fff" stroke="#222" stroke-width="1"/></g>
<g transform="translate(491.2,846.3) scale(0.88) rotate(14)"><ellipse cx="0" cy="0" rx="13" ry="18" fill="#fff" stroke="#222" stroke-width="1.3"/><path d="M-12,-4 C-11,-10 -7,-16 -1,-17.5" fill="none" stroke="#666" stroke-width="1"/><rect x="-8" y="-3.5" width="5.5" height="18" rx="2.75" fill="#fff" stroke="#222" stroke-width="1.1"/><path d="M-5.5,-1.5 L-5.5,13" stroke="#444" stroke-width="0.6"/><rect x="3.3" y="-14.5" width="6.4" height="18" rx="3" fill="#fff" stroke="#222" stroke-width="1.1"/><rect x="4.8" y="-12.5" width="3.4" height="14" rx="1.7" fill="none" stroke="#444" stroke-width="0.7"/><path d="M-2.5,2.5 L-1.5,2 M1.8,0.5 L3.3,0" stroke="#222" stroke-width="0.9"/><ellipse cx="0" cy="1" rx="2.2" ry="3" fill="#fff" stroke="#222" stroke-width="1"/></g>
<path d="M621,805.5 L624,802 L629.5,803 L631.5,808 L628.5,812 L623,811.5 Z" fill="#eee" stroke="#222" stroke-width="1.1"/><circle cx="626.8" cy="807" r="2.6" fill="#fff" stroke="#222" stroke-width="1"/><path d="M625.2,806 L628.8,808.2" stroke="#222" stroke-width="0.9"/>
<path d="M530.3,869.0 L533.3,865.5 L538.8,866.5 L540.8,871.5 L537.8,875.5 L532.3,875.0 Z" fill="#eee" stroke="#222" stroke-width="1.1"/><circle cx="536.0999999999999" cy="870.5" r="2.6" fill="#fff" stroke="#222" stroke-width="1"/><path d="M534.5,869.5 L538.0999999999999,871.7" stroke="#222" stroke-width="0.9"/>
<path d="M266.5,771 L266.5,794" stroke="#808080" stroke-width="1" stroke-dasharray="6,3" fill="none"/>
<path d="M266.3,689 L266.3,756" stroke="#808080" stroke-width="1" stroke-dasharray="6,3" fill="none"/>
<path d="M257.5,762.5 L266.5,757 L275,762.5 L266.5,768 Z" fill="#d6d6d6" stroke="#222" stroke-width="1.1"/>
<ellipse cx="266.4" cy="762.4" rx="2.3" ry="1.4" fill="#fff" stroke="#222" stroke-width="0.9"/>
<path d="M266.3,796 L266.3,806" stroke="#222" stroke-width="3"/><path d="M266.3,796.5 L266.3,805" stroke="#fff" stroke-width="1" stroke-dasharray="1,1"/>
<path d="M262.5,806 L262.5,809.5 C262.5,811.5 270,811.5 270,809.5 L270,806 C270,804.5 262.5,804.5 262.5,806 Z" fill="#ddd" stroke="#222" stroke-width="1"/>
<path d="M287.3,744 L287.3,834.8 L189.5,834.8 L189.5,853" stroke="#808080" stroke-width="1" stroke-dasharray="6,3" fill="none"/>
<path d="M168.2,866.8 L168.5,872 C170,879.5 179,884.3 189.2,884.3 C199.4,884.3 208.5,879.5 210,872 L210.2,866.8" fill="#fff" stroke="#222" stroke-width="1.1"/>
<ellipse cx="189.2" cy="866.8" rx="21" ry="12.7" fill="#fff" stroke="#222" stroke-width="1.1"/>
<ellipse cx="189.2" cy="868.3" rx="19.5" ry="10.8" fill="none" stroke="#555" stroke-width="0.6"/>
<path d="M189.2,863.4 L189.2,855.3" stroke="#222" stroke-width="4.4"/><path d="M189.2,862.8 L189.2,854.7" stroke="#fff" stroke-width="2.2"/>
<path d="M192.0,864.1 L201.6,858.4" stroke="#222" stroke-width="4.4"/><path d="M192.0,863.5 L201.6,857.8" stroke="#fff" stroke-width="2.2"/>
<path d="M186.4,864.1 L176.8,858.4" stroke="#222" stroke-width="4.4"/><path d="M186.4,863.5 L176.8,857.8" stroke="#fff" stroke-width="2.2"/>
<rect x="185.9" y="856.5" width="6.6" height="9.5" fill="#fff" stroke="#222" stroke-width="1.1"/>
<ellipse cx="189.2" cy="856.5" rx="3.3" ry="1.6" fill="#333" stroke="#222" stroke-width="1"/>
<path d="M193.2,865.8 L206.7,865.8" stroke="#222" stroke-width="4.4"/><path d="M193.2,865.2 L206.7,865.2" stroke="#fff" stroke-width="2.2"/>
<path d="M185.2,865.8 L171.7,865.8" stroke="#222" stroke-width="4.4"/><path d="M185.2,865.2 L171.7,865.2" stroke="#fff" stroke-width="2.2"/>
<path d="M192.0,867.5 L201.6,873.2" stroke="#222" stroke-width="4.4"/><path d="M192.0,866.9 L201.6,872.6" stroke="#fff" stroke-width="2.2"/>
<path d="M186.4,867.5 L176.8,873.2" stroke="#222" stroke-width="4.4"/><path d="M186.4,866.9 L176.8,872.6" stroke="#fff" stroke-width="2.2"/>
<path d="M189.2,868.2 L189.2,876.3" stroke="#222" stroke-width="4.4"/><path d="M189.2,867.6 L189.2,875.7" stroke="#fff" stroke-width="2.2"/>
<path d="M189.2,866 L189.2,878" stroke="#222" stroke-width="3.6"/><path d="M189.2,866 L189.2,878" stroke="#fff" stroke-width="1.6"/>
<path d="M140.8,899.4 L152.3,895.8 L166.7,900.8 L172.4,901.6 L199.8,911.6 L207,916 L224.3,923.2 L227.2,920.3 L235.8,923.2 C238,924 239,925.5 238.7,926.8 L232.9,937.6 L217.1,931.8 L209.9,929.6 L179.6,919.6 L163.8,908 L153.7,906.6 L141.5,903.7 C140,902.5 140,900.5 140.8,899.4 Z" fill="#fff" stroke="#222" stroke-width="1.1" stroke-linejoin="round"/>
<path d="M141.5,901 L153,903.5 L162.5,904.5 L172.4,901.6 M152.3,905.2 L163,906 L178.2,917.4 L209.9,927.5 L217,931 M227.2,920.3 L224.5,926 L217.1,931.8 M229,927 L236,928.5 M213,926 L219,923" fill="none" stroke="#333" stroke-width="0.8"/>
<path d="M152.5,896.8 L164,900" stroke="#111" stroke-width="1.8"/>
<path d="M218,932.5 L232.5,937" stroke="#111" stroke-width="1.8"/>
<ellipse cx="189.7" cy="913.8" rx="2.4" ry="1.5" fill="#fff" stroke="#222" stroke-width="1"/>
<path d="M189.5,884 L189.5,946" stroke="#808080" stroke-width="1" stroke-dasharray="6,3" fill="none"/>
<path d="M189.5,946 L189.5,953" stroke="#222" stroke-width="3"/><path d="M189.5,946.5 L189.5,952.5" stroke="#fff" stroke-width="1" stroke-dasharray="1,1"/>
<path d="M185,953.5 L185.5,957.5 C186,960 193,960 193.5,957.5 L194,953.5 C194,951.5 185,951.5 185,953.5 Z" fill="#ddd" stroke="#222" stroke-width="1"/>
<ellipse cx="189.5" cy="953.5" rx="4.5" ry="1.5" fill="none" stroke="#222" stroke-width="0.8"/>
<text x="494.9" y="142.0">530849(2)</text>
<text x="390.2" y="183.5">548408</text>
<text x="615.3" y="166.0">54970701</text>
<text x="259.6" y="238.0">329896</text>
<text x="75.8" y="251.3">51393301</text>
<text x="358.8" y="266.3">512369(2)</text>
<text x="645.3" y="285.8">503145</text>
<text x="311.9" y="316.0">701771(2)</text>
<text x="603.0" y="315.3">51394201</text>
<text x="597.8" y="342.0">512371(2)</text>
<text x="282.8" y="368.8">52854501(2)</text>
<text x="580.6" y="379.0">512564(2)</text>
<text x="267.8" y="420.0">701422</text>
<text x="571.8" y="420.0">51393101</text>
<text x="608.8" y="446.0">51393201</text>
<text x="233.8" y="466.0">528989(2)</text>
<text x="297.7" y="515.0">329896</text>
<text x="297.7" y="537.6">548827</text>
<text x="74.8" y="558.7">548818</text>
<text x="220.5" y="544.3">700391</text>
<text x="257.8" y="572.7">513286</text>
<text x="496.8" y="597.0">51393401</text>
<text x="496.8" y="635.0">531505</text>
<text x="609.8" y="639.0">518482(5)</text>
<text x="114.8" y="686.0">465191</text>
<text x="461.6" y="679.2">513972</text>
<text x="564.5" y="698.0">513935(2)</text>
<text x="620.1" y="735.7">54843204(2)</text>
<text x="374.1" y="748.0">513971</text>
<text x="152.6" y="766.7">332089(4)</text>
<text x="644.7" y="784.0">525518(4)</text>
<text x="154.1" y="808.8">512913(4)</text>
<text x="333.3" y="862.2">513280(2)</text>
<text x="81.2" y="868.4">513613</text>
<text x="354.8" y="906.4">54843304(2)</text>
<text x="90.3" y="924.7">513631</text>
<text x="85.5" y="957.2">313605</text>
<g fill="none" stroke="#222" stroke-width="1">
<rect x="560" y="683.5" width="74.7" height="18"/>
<rect x="328.3" y="848.8" width="77.5" height="17.8"/>
<rect x="86.6" y="912.2" width="53.2" height="14.4"/>
</g>
<g fill="none" stroke="#fff" stroke-width="3">
<path d="M563.8,136.5 L576.7,136.5 L540.7,253.0"/>
<path d="M439.0,177.8 L457.9,177.8 L475.3,213.1"/>
<path d="M611.5,161.3 L601.0,161.3 L575.0,226.0"/>
</g>
<g fill="none" stroke="#222" stroke-width="1">
<path d="M563.8,136.5 L576.7,136.5 L540.7,253.0"/>
<path d="M439.0,177.8 L457.9,177.8 L475.3,213.1"/>
<path d="M611.5,161.3 L601.0,161.3 L575.0,226.0"/>
<path d="M224.7,232.6 L257.2,232.6"/>
<path d="M143.0,246.0 L153.5,246.0 L174.9,277.0"/>
<path d="M428.7,261.6 L446.8,261.6 L468.4,327.8"/>
<path d="M601.5,280.3 L640.4,280.3"/>
<path d="M383.5,311.0 L416.6,311.0"/>
<path d="M565.0,310.0 L598.0,310.0"/>
<path d="M499.5,335.8 L593.0,335.8"/>
<path d="M374.9,363.8 L395.0,363.8 L415.2,379.6"/>
<path d="M513.0,372.8 L576.0,372.8"/>
<path d="M318.0,415.5 L354.0,415.5"/>
<path d="M569.0,414.6 L556.7,414.6 L556.7,450.7"/>
<path d="M678.1,441.1 L688.8,441.1 L688.8,492.1"/>
<path d="M302.0,460.5 L318.7,460.5 L332.0,469.5"/>
<path d="M349.1,509.6 L383.7,509.6"/>
<path d="M349.1,532.6 L382.2,532.6"/>
<path d="M123.9,553.7 L136.3,553.7 L175.2,519.2"/>
<path d="M206.8,539.3 L216.9,539.3"/>
<path d="M309.8,568.0 L322.6,568.0 L340.6,580.2"/>
<path d="M457.0,592.2 L494.0,592.2"/>
<path d="M450.0,629.2 L494.0,629.2"/>
<path d="M606.0,634.0 L593.6,634.0 L593.6,590.0"/>
<path d="M166.0,681.0 L227.0,681.0"/>
<path d="M457.6,673.6 L445.0,673.6 L445.0,702.9"/>
<path d="M560.0,692.5 L550.6,692.5 L536.1,730.2"/>
<path d="M615.0,730.8 L605.0,730.8 L581.2,761.3"/>
<path d="M372.3,741.4 L359.7,741.4 L359.7,771.3"/>
<path d="M222.0,762.6 L256.6,762.6"/>
<path d="M640.5,777.0 L636.0,777.0 L628.4,803.7"/>
<path d="M225.0,803.8 L259.6,803.8"/>
<path d="M405.8,857.8 L419.4,857.8 L428.2,837.3"/>
<path d="M131.7,863.4 L169.3,863.4"/>
<path d="M446.0,901.4 L456.6,901.4 L484.0,860.5"/>
<path d="M139.8,919.7 L184.4,919.7"/>
<path d="M134.7,952.3 L182.9,952.3"/>
</g>
</svg></body></html>
